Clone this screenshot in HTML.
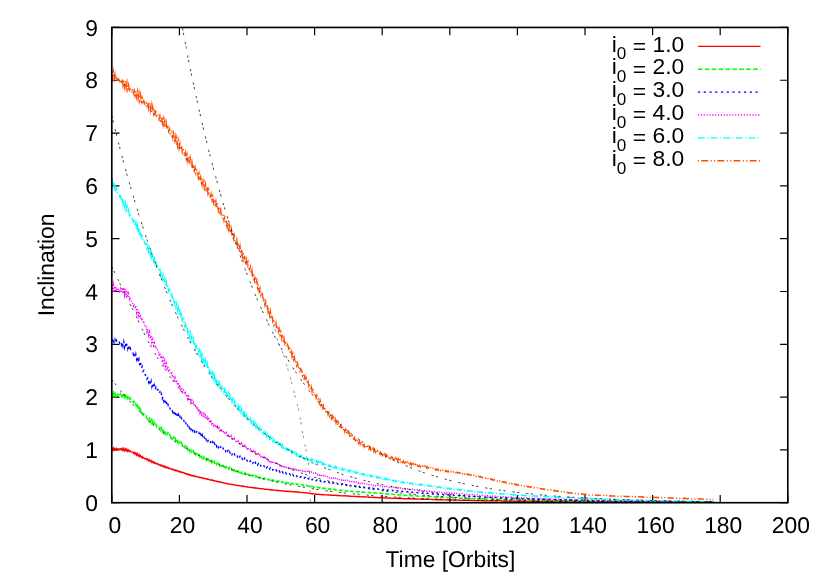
<!DOCTYPE html>
<html><head><meta charset="utf-8"><title>Inclination vs Time</title>
<style>html,body{margin:0;padding:0;background:#fff;overflow:hidden}body{width:822px;height:576px;position:relative;font-family:"Liberation Sans",sans-serif}</style>
</head><body>
<svg width="822" height="576" viewBox="0 0 822 576" style="position:absolute;left:0;top:0;will-change:transform;font-family:'Liberation Sans',sans-serif">
<rect width="822" height="576" fill="#fff"/>
<defs><clipPath id="c"><rect x="111.8" y="27.45" width="676.0" height="475.25"/></clipPath></defs>
<path d="M111.80 502.7V495.0M111.80 27.45V35.15M179.40 502.7V495.0M179.40 27.45V35.15M247.00 502.7V495.0M247.00 27.45V35.15M314.60 502.7V495.0M314.60 27.45V35.15M382.20 502.7V495.0M382.20 27.45V35.15M449.80 502.7V495.0M449.80 27.45V35.15M517.40 502.7V495.0M517.40 27.45V35.15M585.00 502.7V495.0M585.00 27.45V35.15M652.60 502.7V495.0M652.60 27.45V35.15M720.20 502.7V495.0M720.20 27.45V35.15M787.80 502.7V495.0M787.80 27.45V35.15M111.8 502.70H119.5M787.8 502.70H780.0999999999999M111.8 449.89H119.5M787.8 449.89H780.0999999999999M111.8 397.09H119.5M787.8 397.09H780.0999999999999M111.8 344.28H119.5M787.8 344.28H780.0999999999999M111.8 291.48H119.5M787.8 291.48H780.0999999999999M111.8 238.67H119.5M787.8 238.67H780.0999999999999M111.8 185.87H119.5M787.8 185.87H780.0999999999999M111.8 133.06H119.5M787.8 133.06H780.0999999999999M111.8 80.26H119.5M787.8 80.26H780.0999999999999M111.8 27.45H119.5M787.8 27.45H780.0999999999999" stroke="#000" stroke-width="1.2" fill="none"/>
<g clip-path="url(#c)" fill="none" stroke-linejoin="miter" stroke-miterlimit="10">
<path d="M111.8 448.1L112.6 450.1L113.4 448.0L114.2 450.0L115.0 448.4L115.8 449.8L116.6 448.5L117.4 449.5L118.2 449.0L119.0 449.0L119.8 449.4L120.6 448.8L121.4 450.0L122.2 448.4L123.0 450.5L123.8 448.6L124.6 450.7L125.4 448.8L126.2 450.9L127.0 449.4L127.8 451.3L128.6 450.0L129.4 451.6L130.2 450.9L131.0 451.8L131.8 452.1L132.6 451.9L133.4 453.2L134.2 452.4L135.0 454.2L135.8 453.0L136.6 455.2L137.4 453.7L138.2 456.0L139.0 454.6L139.8 456.7L140.6 455.6L141.4 457.5L142.2 456.6L143.0 458.1L143.8 457.6L144.6 458.6L145.4 459.0L146.2 458.5L147.0 460.0L147.8 459.2L148.6 460.8L149.4 459.8L150.3 461.6L151.1 460.6L151.9 462.3L152.7 461.4L153.5 463.1L154.3 462.2L155.1 463.5L155.9 462.9L156.7 464.0L157.5 463.8L158.3 464.1L159.1 465.1L159.9 464.7L160.7 465.8L161.5 465.0L162.3 466.4L163.1 465.7L163.9 467.0L164.7 466.2L165.5 467.6L166.3 466.8L167.1 468.1L167.9 467.5L168.7 468.5L169.5 468.1L170.3 469.0L171.1 469.2L171.9 468.9L172.7 469.8L173.5 469.4L174.3 470.3L175.1 469.8L175.9 470.9L176.7 470.3L177.5 471.3L178.3 470.8L179.1 471.8L179.9 471.4L180.7 472.3L181.5 471.9L182.3 472.7L183.1 472.5L183.9 472.7L184.7 473.5L185.5 473.3L186.3 474.1L187.1 473.8L187.9 474.6L188.7 474.2L189.5 475.1L190.3 474.7L191.1 475.6L191.9 475.2L192.7 476.0L193.5 475.6L194.3 476.4L195.1 476.0L195.9 476.8L196.7 476.5L197.5 476.6L198.3 477.3L199.1 477.0L199.9 477.7L200.7 477.3L201.5 478.0L202.3 477.7L203.1 478.4L203.9 478.0L204.7 478.7L205.5 478.4L206.3 479.0L207.1 478.8L207.9 479.4L208.7 479.2L209.5 479.8L210.3 480.0L211.1 479.8L211.9 480.4L212.7 480.1L213.5 480.8L214.3 480.5L215.1 481.1L215.9 480.9L216.7 481.5L217.5 481.3L218.3 481.9L219.1 481.7L219.9 482.3L220.7 482.0L221.5 482.6L222.3 482.4L223.1 482.6L223.9 483.1L224.7 482.9L225.6 483.5L226.4 483.3L227.2 483.8L228.0 483.6L228.8 484.1L229.6 483.9L230.4 484.4L231.2 484.2L232.0 484.7L232.8 484.5L233.6 484.9L234.4 484.8L235.2 485.2L236.0 485.4L236.8 485.2L237.6 485.6L238.4 485.4L239.2 485.8L240.0 485.7L240.8 486.1L241.6 485.9L242.4 486.4L243.2 486.1L244.0 486.6L244.8 486.4L245.6 486.8L246.4 486.6L247.2 487.0L248.0 486.9L248.8 487.2L249.6 487.4L250.4 487.2L251.2 487.6L252.0 487.4L252.8 487.8L253.6 487.6L254.4 488.0L255.2 487.8L256.0 488.2L256.8 488.0L257.6 488.4L258.4 488.2L259.2 488.6L260.0 488.4L260.8 488.7L261.6 488.6L262.4 488.7L263.2 489.0L264.0 488.9L264.8 489.3L265.6 489.1L266.4 489.4L267.2 489.3L268.0 489.6L268.8 489.4L269.6 489.8L270.4 489.6L271.2 490.0L272.0 489.8L272.8 490.1L273.6 490.0L274.4 490.2L275.2 490.3L276.0 490.2L276.8 490.5L277.6 490.3L278.4 490.6L279.2 490.5L280.0 490.8L280.8 490.6L281.6 490.9L282.4 490.8L283.2 491.1L284.0 490.9L284.8 491.2L285.6 491.0L286.4 491.3L287.2 491.2L288.0 491.2L288.8 491.5L289.6 491.4L290.4 491.6L291.2 491.5L292.0 491.7L292.8 491.6L293.6 491.9L294.4 491.7L295.2 492.0L296.0 491.8L296.8 492.1L297.6 492.0L298.4 492.2L299.2 492.1L300.0 492.4L300.9 492.3L301.7 492.3L302.5 492.6L303.3 492.5L304.1 492.7L304.9 492.6L305.7 492.9L306.5 492.8L307.3 493.1L308.1 493.0L308.9 493.3L309.7 493.3L310.5 493.6L311.3 493.5L312.1 493.8L312.9 493.7L313.7 494.0L314.5 494.1L315.3 494.0L316.1 494.2L316.9 494.1L317.7 494.4L318.5 494.2L319.3 494.5L320.1 494.4L320.9 494.6L321.7 494.5L322.5 494.7L323.3 494.6L324.1 494.8L324.9 494.7L325.7 494.9L326.5 494.8L327.3 494.8L328.1 495.0L328.9 494.9L329.7 495.1L330.5 495.0L331.3 495.2L332.1 495.1L332.9 495.3L333.7 495.2L334.5 495.4L335.3 495.3L336.1 495.5L336.9 495.3L337.7 495.6L338.5 495.4L339.3 495.6L340.1 495.7L340.9 495.6L341.7 495.8L342.5 495.6L343.3 495.8L344.1 495.7L344.9 495.9L345.7 495.8L346.5 496.0L347.3 495.9L348.1 496.1L348.9 496.0L349.7 496.2L350.5 496.1L351.3 496.3L352.1 496.2L352.9 496.3L353.7 496.4L354.5 496.3L355.3 496.5L356.1 496.4L356.9 496.6L357.7 496.4L358.5 496.7L359.3 496.5L360.1 496.8L360.9 496.6L361.7 496.8L362.5 496.7L363.3 496.9L364.1 496.8L364.9 497.0L365.7 496.9L366.5 496.9L367.3 497.1L368.1 497.0L368.9 497.2L369.7 497.1L370.5 497.3L371.3 497.2L372.1 497.4L372.9 497.2L373.7 497.5L374.5 497.3L375.3 497.5L376.1 497.4L377.0 497.6L377.8 497.5L378.6 497.7L379.4 497.7L380.2 497.6L381.0 497.8L381.8 497.6L382.6 497.8L383.4 497.7L384.2 497.9L385.0 497.8L385.8 498.0L386.6 497.9L387.4 498.1L388.2 497.9L389.0 498.1L389.8 498.0L390.6 498.2L391.4 498.1L392.2 498.1L393.0 498.3L393.8 498.2L394.6 498.3L395.4 498.2L396.2 498.4L397.0 498.3L397.8 498.5L398.6 498.3L399.4 498.5L400.2 498.4L401.0 498.6L401.8 498.4L402.6 498.6L403.4 498.5L404.2 498.7L405.0 498.7L405.8 498.6L406.6 498.8L407.4 498.6L408.2 498.8L409.0 498.7L409.8 498.9L410.6 498.7L411.4 498.9L412.2 498.8L413.0 499.0L413.8 498.8L414.6 499.0L415.4 498.9L416.2 499.0L417.0 498.9L417.8 499.1L418.6 499.1L419.4 499.0L420.2 499.1L421.0 499.0L421.8 499.2L422.6 499.1L423.4 499.3L424.2 499.1L425.0 499.3L425.8 499.1L426.6 499.3L427.4 499.2L428.2 499.4L429.0 499.3L429.8 499.4L430.6 499.3L431.4 499.3L432.2 499.5L433.0 499.4L433.8 499.6L434.6 499.5L435.4 499.6L436.2 499.5L437.0 499.7L437.8 499.5L438.6 499.7L439.4 499.6L440.2 499.8L441.0 499.6L441.8 499.8L442.6 499.7L443.4 499.8L444.2 499.9L445.0 499.8L445.8 499.9L446.6 499.8L447.4 500.0L448.2 499.8L449.0 500.0L449.8 499.9L450.6 500.1L451.4 499.9L452.3 500.1L453.1 500.0L453.9 500.1L454.7 500.0L455.5 500.2L456.3 500.0L457.1 500.1L457.9 500.2L458.7 500.1L459.5 500.2L460.3 500.1L461.1 500.3L461.9 500.2L462.7 500.3L463.5 500.2L464.3 500.3L465.1 500.2L465.9 500.4L466.7 500.2L467.5 500.4L468.3 500.3L469.1 500.4L469.9 500.3L470.7 500.3L471.5 500.5L472.3 500.4L473.1 500.5L473.9 500.4L474.7 500.5L475.5 500.4L476.3 500.6L477.1 500.4L477.9 500.6L478.7 500.5L479.5 500.6L480.3 500.5L481.1 500.6L481.9 500.5L482.7 500.7L483.5 500.7L484.3 500.6L485.1 500.7L485.9 500.6L486.7 500.7L487.5 500.6L488.3 500.8L489.1 500.6L489.9 500.8L490.7 500.7L491.5 500.8L492.3 500.7L493.1 500.8L493.9 500.7L494.7 500.8L495.5 500.8L496.3 500.8L497.1 500.9L497.9 500.8L498.7 500.9L499.5 500.8L500.3 500.9L501.1 500.8L501.9 501.0L502.7 500.9L503.5 501.0L504.3 500.9L505.1 501.0L505.9 500.9L506.7 501.0L507.5 500.9L508.3 501.1L509.1 501.1L509.9 501.0L510.7 501.1L511.5 501.0L512.3 501.1L513.1 501.0L513.9 501.2L514.7 501.0L515.5 501.2L516.3 501.1L517.1 501.2L517.9 501.1L518.7 501.2L519.5 501.1L520.3 501.2L521.1 501.1L521.9 501.3L522.7 501.3L523.5 501.2L524.3 501.3L525.1 501.2L525.9 501.3L526.7 501.2L527.6 501.4L528.4 501.2L529.2 501.4L530.0 501.3L530.8 501.4L531.6 501.3L532.4 501.4L533.2 501.3L534.0 501.4L534.8 501.3L535.6 501.3L536.4 501.5L537.2 501.4L538.0 501.5L538.8 501.4L539.6 501.5L540.4 501.4L541.2 501.5L542.0 501.4L542.8 501.6L543.6 501.4L544.4 501.6L545.2 501.5L546.0 501.6L546.8 501.5L547.6 501.6L548.4 501.6L549.2 501.5L550.0 501.6L550.8 501.5L551.6 501.6L552.4 501.5L553.2 501.7L554.0 501.6L554.8 501.7L555.6 501.6L556.4 501.7L557.2 501.6L558.0 501.7L558.8 501.6L559.6 501.7L560.4 501.6L561.2 501.7L562.0 501.8L562.8 501.7L563.6 501.8L564.4 501.7L565.2 501.8L566.0 501.7L566.8 501.8L567.6 501.7L568.4 501.8L569.2 501.7L570.0 501.8L570.8 501.7L571.6 501.9L572.4 501.7L573.2 501.9L574.0 501.8L574.8 501.8L575.6 501.9L576.4 501.8L577.2 501.9L578.0 501.8L578.8 501.9L579.6 501.8L580.4 501.9L581.2 501.8L582.0 502.0L582.8 501.8L583.6 501.9L584.4 501.9L585.2 502.0L586.0 501.9L586.8 502.0L587.6 502.0L588.4 501.9L589.2 502.0L590.0 501.9L590.8 502.0L591.6 501.9L592.4 502.0L593.2 501.9L594.0 502.0L594.8 501.9L595.6 502.0L596.4 501.9L597.2 502.0L598.0 501.9L598.8 502.1L599.6 502.0L600.4 502.0L601.2 502.1L602.0 502.0L602.8 502.1L603.7 502.0L604.5 502.1L605.3 502.0L606.1 502.1L606.9 502.0L607.7 502.1L608.5 502.0L609.3 502.1L610.1 502.0L610.9 502.1L611.7 502.0L612.5 502.1L613.3 502.1L614.1 502.0L614.9 502.2L615.7 502.1L616.5 502.2L617.3 502.1L618.1 502.2L618.9 502.1L619.7 502.2L620.5 502.1L621.3 502.2L622.1 502.1L622.9 502.2L623.7 502.1L624.5 502.2L625.3 502.1L626.1 502.2L626.9 502.2L627.7 502.1L628.5 502.2L629.3 502.1L630.1 502.2L630.9 502.1L631.7 502.2L632.5 502.1L633.3 502.2L634.1 502.1L634.9 502.3L635.7 502.2L636.5 502.2L637.3 502.2L638.1 502.3L638.9 502.2L639.7 502.2L640.5 502.3L641.3 502.2L642.1 502.3L642.9 502.2L643.7 502.3L644.5 502.2L645.3 502.3L646.1 502.2L646.9 502.3L647.7 502.2L648.5 502.3L649.3 502.2L650.1 502.3L650.9 502.2L651.7 502.3L652.5 502.3L653.3 502.2L654.1 502.3L654.9 502.2L655.7 502.3L656.5 502.2L657.3 502.3L658.1 502.2L658.9 502.3L659.7 502.2L660.5 502.3L661.3 502.2L662.1 502.3L662.9 502.3L663.7 502.4L664.5 502.3L665.3 502.3L666.1 502.4L666.9 502.3L667.7 502.4L668.5 502.3L669.3 502.4L670.1 502.3L670.9 502.4L671.7 502.3L672.5 502.4L673.3 502.3L674.1 502.4L674.9 502.3L675.7 502.4L676.5 502.3L677.3 502.4L678.1 502.3L679.0 502.3L679.8 502.4L680.6 502.3L681.4 502.4L682.2 502.3L683.0 502.4L683.8 502.3L684.6 502.4L685.4 502.3L686.2 502.4L687.0 502.3L687.8 502.4L688.6 502.3L689.4 502.4L690.2 502.3L691.0 502.4L691.8 502.4L692.6 502.3L693.4 502.4L694.2 502.3L695.0 502.5L695.8 502.4L696.6 502.4L697.4 502.4L698.2 502.4L699.0 502.4L699.8 502.5L700.6 502.4L701.4 502.5L702.2 502.4L703.0 502.5L703.8 502.4L704.6 502.4L705.4 502.5L706.2 502.4L707.0 502.5L707.8 502.4L708.6 502.5L709.4 502.4L710.2 502.5L711.0 502.4L711.8 502.5L712.6 502.4L713.4 502.5" stroke="#ff0000" stroke-width="1.35"/>
<path d="M111.8 393.3L112.6 397.1L113.4 393.0L114.2 396.4L115.0 393.3L115.8 396.0L116.6 393.5L117.4 395.3L118.2 394.3L119.0 394.4L119.8 395.5L120.6 393.6L121.4 396.2L122.2 393.3L123.0 396.4L123.8 393.5L124.6 397.0L125.4 393.5L126.2 397.7L127.0 394.9L127.8 398.4L128.6 396.0L129.4 399.0L130.2 397.8L131.0 399.8L131.8 400.1L132.6 400.4L133.4 402.6L134.2 401.6L135.0 405.2L135.8 403.8L136.6 407.9L137.4 405.4L138.2 409.6L139.0 407.3L139.8 411.3L140.6 409.3L141.4 413.1L142.2 411.5L143.0 414.4L143.8 414.0L144.6 415.3L145.4 416.4L146.2 415.7L147.0 418.7L147.8 417.3L148.6 420.6L149.4 418.4L150.3 421.9L151.1 419.4L151.9 423.3L152.7 420.7L153.5 424.6L154.3 422.5L155.1 425.8L155.9 424.3L156.7 426.8L157.5 425.7L158.3 426.3L159.1 428.6L159.9 427.3L160.7 429.9L161.5 427.9L162.3 431.4L163.1 429.1L163.9 432.7L164.7 430.2L165.5 433.7L166.3 431.5L167.1 434.7L167.9 432.8L168.7 435.4L169.5 434.3L170.3 436.4L171.1 437.2L171.9 436.0L172.7 438.7L173.5 437.2L174.3 439.7L175.1 438.0L175.9 441.0L176.7 438.9L177.5 442.2L178.3 440.0L179.1 443.3L179.9 441.8L180.7 444.5L181.5 442.7L182.3 445.2L183.1 444.2L183.9 444.9L184.7 447.4L185.5 445.9L186.3 448.9L187.1 447.2L187.9 449.9L188.7 448.1L189.5 451.1L190.3 449.0L191.1 452.2L191.9 450.3L192.7 453.1L193.5 451.3L194.3 453.9L195.1 452.1L195.9 454.8L196.7 453.2L197.5 453.7L198.3 456.0L199.1 454.5L199.9 457.0L200.7 455.1L201.5 457.9L202.3 455.8L203.1 458.7L203.9 456.9L204.7 459.3L205.5 457.9L206.3 460.3L207.1 458.5L207.9 460.8L208.7 459.2L209.5 461.6L210.3 462.0L211.1 460.3L211.9 462.6L212.7 461.1L213.5 463.4L214.3 461.5L215.1 464.1L215.9 462.5L216.7 464.8L217.5 463.1L218.3 465.3L219.1 463.7L219.9 466.0L220.7 464.5L221.5 466.4L222.3 465.1L223.1 465.4L223.9 467.5L224.7 466.1L225.6 467.9L226.4 466.7L227.2 468.6L228.0 467.2L228.8 469.3L229.6 467.6L230.4 469.8L231.2 468.4L232.0 470.3L232.8 468.9L233.6 470.9L234.4 469.6L235.2 471.3L236.0 471.7L236.8 470.3L237.6 471.9L238.4 470.8L239.2 472.7L240.0 471.3L240.8 473.1L241.6 471.9L242.4 473.6L243.2 472.4L244.0 474.1L244.8 472.9L245.6 474.5L246.4 473.4L247.2 474.8L248.0 474.0L248.8 475.3L249.6 475.6L250.4 474.4L251.2 476.0L252.0 474.9L252.8 476.3L253.6 475.4L254.4 476.9L255.2 475.8L256.0 477.3L256.8 476.1L257.6 477.6L258.4 476.5L259.2 477.9L260.0 477.0L260.8 478.2L261.6 477.4L262.4 477.5L263.2 478.9L264.0 478.0L264.8 479.1L265.6 478.4L266.4 479.5L267.2 478.6L268.0 479.9L268.8 479.0L269.6 480.1L270.4 479.3L271.2 480.4L272.0 479.6L272.8 480.8L273.6 480.0L274.4 481.0L275.2 481.2L276.0 480.5L276.8 481.5L277.6 480.8L278.4 481.8L279.2 481.0L280.0 482.1L280.8 481.2L281.6 482.4L282.4 481.6L283.2 482.6L284.0 481.8L284.8 482.9L285.6 482.2L286.4 483.1L287.2 482.4L288.0 482.5L288.8 483.4L289.6 482.8L290.4 483.7L291.2 483.1L292.0 484.0L292.8 483.3L293.6 484.3L294.4 483.5L295.2 484.4L296.0 483.8L296.8 484.6L297.6 484.0L298.4 484.8L299.2 484.3L300.0 485.0L300.9 484.5L301.7 484.6L302.5 485.4L303.3 484.8L304.1 485.7L304.9 485.1L305.7 485.9L306.5 485.3L307.3 486.2L308.1 485.6L308.9 486.4L309.7 485.8L310.5 486.6L311.3 486.1L312.1 486.9L312.9 486.4L313.7 487.1L314.5 487.3L315.3 486.8L316.1 487.5L316.9 487.0L317.7 487.7L318.5 487.2L319.3 488.0L320.1 487.4L320.9 488.2L321.7 487.7L322.5 488.4L323.3 487.9L324.1 488.6L324.9 488.1L325.7 488.8L326.5 488.4L327.3 488.4L328.1 489.1L328.9 488.6L329.7 489.3L330.5 488.8L331.3 489.6L332.1 489.0L332.9 489.8L333.7 489.2L334.5 489.9L335.3 489.4L336.1 490.1L336.9 489.6L337.7 490.3L338.5 489.8L339.3 490.4L340.1 490.5L340.9 490.1L341.7 490.7L342.5 490.2L343.3 490.9L344.1 490.4L344.9 491.0L345.7 490.6L346.5 491.2L347.3 490.7L348.1 491.4L348.9 490.8L349.7 491.5L350.5 491.0L351.3 491.6L352.1 491.1L352.9 491.6L353.7 491.8L354.5 491.4L355.3 491.9L356.1 491.4L356.9 492.0L357.7 491.5L358.5 492.1L359.3 491.6L360.1 492.2L360.9 491.7L361.7 492.3L362.5 491.8L363.3 492.4L364.1 492.0L364.9 492.5L365.7 492.0L366.5 492.1L367.3 492.7L368.1 492.2L368.9 492.8L369.7 492.3L370.5 492.9L371.3 492.4L372.1 493.0L372.9 492.5L373.7 493.1L374.5 492.6L375.3 493.2L376.1 492.8L377.0 493.3L377.8 492.9L378.6 493.4L379.4 493.5L380.2 493.1L381.0 493.6L381.8 493.2L382.6 493.8L383.4 493.4L384.2 493.9L385.0 493.5L385.8 494.1L386.6 493.6L387.4 494.1L388.2 493.8L389.0 494.3L389.8 493.9L390.6 494.4L391.4 494.0L392.2 494.2L393.0 494.6L393.8 494.2L394.6 494.8L395.4 494.4L396.2 494.9L397.0 494.5L397.8 495.0L398.6 494.6L399.4 495.2L400.2 494.7L401.0 495.2L401.8 494.8L402.6 495.3L403.4 494.9L404.2 495.4L405.0 495.5L405.8 495.1L406.6 495.6L407.4 495.2L408.2 495.7L409.0 495.3L409.8 495.8L410.6 495.4L411.4 496.0L412.2 495.5L413.0 496.0L413.8 495.6L414.6 496.1L415.4 495.7L416.2 496.1L417.0 495.8L417.8 496.3L418.6 496.3L419.4 495.9L420.2 496.4L421.0 496.0L421.8 496.5L422.6 496.1L423.4 496.6L424.2 496.2L425.0 496.7L425.8 496.3L426.6 496.8L427.4 496.4L428.2 496.8L429.0 496.5L429.8 496.9L430.6 496.6L431.4 496.6L432.2 497.1L433.0 496.7L433.8 497.1L434.6 496.8L435.4 497.2L436.2 496.8L437.0 497.3L437.8 496.9L438.6 497.4L439.4 497.0L440.2 497.5L441.0 497.1L441.8 497.5L442.6 497.2L443.4 497.5L444.2 497.6L445.0 497.3L445.8 497.7L446.6 497.3L447.4 497.8L448.2 497.4L449.0 497.9L449.8 497.5L450.6 497.9L451.4 497.6L452.3 498.0L453.1 497.6L453.9 498.1L454.7 497.7L455.5 498.1L456.3 497.8L457.1 497.8L457.9 498.2L458.7 497.9L459.5 498.3L460.3 498.0L461.1 498.3L461.9 498.0L462.7 498.4L463.5 498.1L464.3 498.5L465.1 498.1L465.9 498.6L466.7 498.2L467.5 498.5L468.3 498.3L469.1 498.6L469.9 498.3L470.7 498.4L471.5 498.7L472.3 498.4L473.1 498.8L473.9 498.5L474.7 498.8L475.5 498.5L476.3 498.9L477.1 498.6L477.9 499.0L478.7 498.7L479.5 499.0L480.3 498.7L481.1 499.0L481.9 498.7L482.7 499.1L483.5 499.1L484.3 498.8L485.1 499.2L485.9 498.8L486.7 499.2L487.5 498.9L488.3 499.3L489.1 498.9L489.9 499.3L490.7 499.0L491.5 499.3L492.3 499.0L493.1 499.4L493.9 499.1L494.7 499.4L495.5 499.1L496.3 499.2L497.1 499.5L497.9 499.2L498.7 499.5L499.5 499.2L500.3 499.6L501.1 499.3L501.9 499.6L502.7 499.3L503.5 499.7L504.3 499.3L505.1 499.7L505.9 499.4L506.7 499.7L507.5 499.4L508.3 499.8L509.1 499.8L509.9 499.5L510.7 499.8L511.5 499.5L512.3 499.9L513.1 499.6L513.9 499.9L514.7 499.6L515.5 499.9L516.3 499.6L517.1 500.0L517.9 499.7L518.7 500.0L519.5 499.7L520.3 500.1L521.1 499.8L521.9 500.1L522.7 500.1L523.5 499.8L524.3 500.2L525.1 499.9L525.9 500.2L526.7 499.9L527.6 500.2L528.4 499.9L529.2 500.3L530.0 500.0L530.8 500.3L531.6 500.0L532.4 500.3L533.2 500.0L534.0 500.4L534.8 500.1L535.6 500.1L536.4 500.4L537.2 500.1L538.0 500.4L538.8 500.2L539.6 500.5L540.4 500.2L541.2 500.5L542.0 500.2L542.8 500.5L543.6 500.3L544.4 500.6L545.2 500.3L546.0 500.6L546.8 500.4L547.6 500.6L548.4 500.6L549.2 500.4L550.0 500.7L550.8 500.4L551.6 500.7L552.4 500.4L553.2 500.7L554.0 500.5L554.8 500.8L555.6 500.5L556.4 500.8L557.2 500.6L558.0 500.8L558.8 500.6L559.6 500.8L560.4 500.6L561.2 500.6L562.0 500.9L562.8 500.7L563.6 500.9L564.4 500.7L565.2 501.0L566.0 500.7L566.8 501.0L567.6 500.7L568.4 501.0L569.2 500.7L570.0 501.0L570.8 500.8L571.6 501.0L572.4 500.8L573.2 501.1L574.0 500.8L574.8 500.8L575.6 501.1L576.4 500.9L577.2 501.1L578.0 500.9L578.8 501.2L579.6 500.9L580.4 501.2L581.2 500.9L582.0 501.2L582.8 500.9L583.6 501.2L584.4 501.0L585.2 501.3L586.0 501.0L586.8 501.2L587.6 501.3L588.4 501.0L589.2 501.3L590.0 501.1L590.8 501.3L591.6 501.1L592.4 501.3L593.2 501.1L594.0 501.4L594.8 501.1L595.6 501.4L596.4 501.1L597.2 501.4L598.0 501.2L598.8 501.4L599.6 501.2L600.4 501.2L601.2 501.4L602.0 501.2L602.8 501.5L603.7 501.2L604.5 501.5L605.3 501.2L606.1 501.5L606.9 501.3L607.7 501.5L608.5 501.3L609.3 501.5L610.1 501.3L610.9 501.6L611.7 501.3L612.5 501.6L613.3 501.6L614.1 501.4L614.9 501.6L615.7 501.4L616.5 501.6L617.3 501.4L618.1 501.7L618.9 501.4L619.7 501.6L620.5 501.4L621.3 501.6L622.1 501.4L622.9 501.7L623.7 501.4L624.5 501.7L625.3 501.5L626.1 501.7L626.9 501.7L627.7 501.5L628.5 501.7L629.3 501.5L630.1 501.7L630.9 501.5L631.7 501.8L632.5 501.5L633.3 501.8L634.1 501.5L634.9 501.8L635.7 501.6L636.5 501.8L637.3 501.6L638.1 501.8L638.9 501.6L639.7 501.6L640.5 501.8L641.3 501.6L642.1 501.8L642.9 501.6L643.7 501.9L644.5 501.6L645.3 501.9L646.1 501.7L646.9 501.9L647.7 501.7L648.5 501.9L649.3 501.7L650.1 501.9L650.9 501.7L651.7 501.9L652.5 501.9L653.3 501.7L654.1 501.9L654.9 501.7L655.7 502.0L656.5 501.7L657.3 502.0L658.1 501.8L658.9 502.0L659.7 501.8L660.5 502.0L661.3 501.8L662.1 502.0L662.9 501.8L663.7 502.0L664.5 501.8L665.3 501.8L666.1 502.0L666.9 501.8L667.7 502.0L668.5 501.8L669.3 502.0L670.1 501.8L670.9 502.0L671.7 501.8L672.5 502.1L673.3 501.9L674.1 502.1L674.9 501.9L675.7 502.1L676.5 501.9L677.3 502.1L678.1 501.9L679.0 501.9L679.8 502.1L680.6 501.9L681.4 502.1L682.2 501.9L683.0 502.1L683.8 501.9L684.6 502.1L685.4 501.9L686.2 502.1L687.0 501.9L687.8 502.1L688.6 501.9L689.4 502.2L690.2 502.0L691.0 502.2L691.8 502.2L692.6 502.0L693.4 502.2L694.2 502.0L695.0 502.2L695.8 502.0L696.6 502.2L697.4 502.0L698.2 502.2L699.0 502.0L699.8 502.2L700.6 502.0L701.4 502.2L702.2 502.0L703.0 502.2L703.8 502.1L704.6 502.1L705.4 502.2L706.2 502.0L707.0 502.2L707.8 502.1L708.6 502.2L709.4 502.1L710.2 502.2L711.0 502.1L711.8 502.3L712.6 502.1L713.4 502.3" stroke="#00ff00" stroke-width="1.35" stroke-dasharray="4.60 2.30"/>
<path d="M111.8 338.6L112.6 343.1L113.4 338.7L114.2 343.6L115.0 339.6L115.8 343.1L116.6 340.4L117.4 342.7L118.2 342.1L119.0 341.8L119.8 343.2L120.6 342.1L121.4 345.0L122.2 341.9L123.0 346.2L123.8 341.9L124.6 347.2L125.4 342.9L126.2 347.8L127.0 343.7L127.8 348.9L128.6 345.8L129.4 350.1L130.2 348.0L131.0 350.3L131.8 351.1L132.6 351.4L133.4 354.6L134.2 352.7L135.0 357.4L135.8 354.1L136.6 359.4L137.4 356.3L138.2 362.7L139.0 359.4L139.8 365.7L140.6 362.8L141.4 368.3L142.2 366.6L143.0 371.4L143.8 370.4L144.6 373.3L145.4 375.3L146.2 374.8L147.0 379.0L147.8 377.9L148.6 382.2L149.4 379.5L150.3 385.0L151.1 381.3L151.9 386.7L152.7 383.3L153.5 388.2L154.3 385.2L155.1 389.4L155.9 387.3L156.7 390.6L157.5 389.5L158.3 390.0L159.1 393.2L159.9 391.8L160.7 395.6L161.5 393.8L162.3 398.6L163.1 396.5L163.9 401.1L164.7 398.8L165.5 403.6L166.3 401.5L167.1 406.0L167.9 404.4L168.7 407.7L169.5 406.6L170.3 409.5L171.1 410.2L171.9 409.0L172.7 412.2L173.5 410.4L174.3 414.2L175.1 411.8L175.9 415.4L176.7 413.1L177.5 417.3L178.3 414.7L179.1 418.4L179.9 416.5L180.7 420.0L181.5 418.1L182.3 421.0L183.1 419.7L183.9 420.7L184.7 423.4L185.5 421.8L186.3 425.0L187.1 423.4L187.9 426.6L188.7 424.9L189.5 428.1L190.3 426.2L191.1 429.5L191.9 427.4L192.7 430.7L193.5 429.0L194.3 431.9L195.1 430.1L195.9 433.1L196.7 431.6L197.5 432.0L198.3 434.6L199.1 433.1L199.9 435.9L200.7 434.0L201.5 437.1L202.3 434.9L203.1 437.9L203.9 436.0L204.7 439.2L205.5 437.3L206.3 440.1L207.1 438.5L207.9 441.1L208.7 439.4L209.5 442.1L210.3 442.6L211.1 440.9L211.9 443.5L212.7 441.9L213.5 444.6L214.3 443.0L215.1 445.7L215.9 443.9L216.7 446.6L217.5 444.8L218.3 447.5L219.1 445.8L219.9 448.2L220.7 446.8L221.5 449.3L222.3 447.8L223.1 448.0L223.9 450.3L224.7 449.2L225.6 451.3L226.4 449.8L227.2 452.4L228.0 450.6L228.8 452.9L229.6 451.5L230.4 453.8L231.2 452.2L232.0 454.6L232.8 453.1L233.6 455.2L234.4 454.0L235.2 455.9L236.0 456.4L236.8 455.0L237.6 456.9L238.4 455.5L239.2 457.8L240.0 456.3L240.8 458.4L241.6 457.1L242.4 459.1L243.2 457.6L244.0 459.7L244.8 458.2L245.6 460.3L246.4 459.1L247.2 460.9L248.0 459.7L248.8 461.5L249.6 461.7L250.4 460.8L251.2 462.5L252.0 461.4L252.8 463.3L253.6 461.8L254.4 463.9L255.2 462.4L256.0 464.3L256.8 463.1L257.6 465.0L258.4 463.7L259.2 465.5L260.0 464.4L260.8 466.0L261.6 464.9L262.4 465.2L263.2 466.8L264.0 465.9L264.8 467.5L265.6 466.3L266.4 467.9L267.2 466.9L268.0 468.5L268.8 467.4L269.6 469.1L270.4 467.9L271.2 469.6L272.0 468.6L272.8 470.0L273.6 469.0L274.4 470.5L275.2 470.7L276.0 469.8L276.8 471.2L277.6 470.3L278.4 471.8L279.2 470.9L280.0 472.3L280.8 471.1L281.6 472.7L282.4 471.8L283.2 473.1L284.0 472.3L284.8 473.5L285.6 472.6L286.4 473.9L287.2 473.1L288.0 473.3L288.8 474.6L289.6 473.8L290.4 475.0L291.2 474.2L292.0 475.5L292.8 474.5L293.6 475.8L294.4 475.0L295.2 476.3L296.0 475.4L296.8 476.5L297.6 475.8L298.4 476.9L299.2 476.2L300.0 477.3L300.9 476.6L301.7 476.8L302.5 477.9L303.3 477.2L304.1 478.2L304.9 477.4L305.7 478.6L306.5 477.9L307.3 479.0L308.1 478.2L308.9 479.3L309.7 478.6L310.5 479.6L311.3 478.9L312.1 479.9L312.9 479.2L313.7 480.2L314.5 480.3L315.3 479.7L316.1 480.7L316.9 480.0L317.7 481.0L318.5 480.3L319.3 481.2L320.1 480.5L320.9 481.5L321.7 480.8L322.5 481.8L323.3 481.2L324.1 482.0L324.9 481.4L325.7 482.2L326.5 481.7L327.3 481.8L328.1 482.7L328.9 482.1L329.7 482.9L330.5 482.3L331.3 483.2L332.1 482.6L332.9 483.4L333.7 482.8L334.5 483.6L335.3 483.0L336.1 483.9L336.9 483.2L337.7 484.1L338.5 483.5L339.3 484.3L340.1 484.4L340.9 483.9L341.7 484.6L342.5 484.0L343.3 484.9L344.1 484.3L344.9 485.1L345.7 484.5L346.5 485.4L347.3 484.7L348.1 485.6L348.9 485.0L349.7 485.8L350.5 485.3L351.3 486.0L352.1 485.5L352.9 486.2L353.7 486.3L354.5 485.8L355.3 486.6L356.1 486.0L356.9 486.8L357.7 486.2L358.5 486.9L359.3 486.4L360.1 487.2L360.9 486.6L361.7 487.3L362.5 486.9L363.3 487.6L364.1 487.1L364.9 487.8L365.7 487.3L366.5 487.5L367.3 488.1L368.1 487.6L368.9 488.3L369.7 487.8L370.5 488.5L371.3 488.0L372.1 488.7L372.9 488.2L373.7 488.9L374.5 488.3L375.3 489.1L376.1 488.5L377.0 489.2L377.8 488.8L378.6 489.3L379.4 489.4L380.2 489.0L381.0 489.6L381.8 489.2L382.6 489.8L383.4 489.4L384.2 490.0L385.0 489.4L385.8 490.1L386.6 489.6L387.4 490.3L388.2 489.8L389.0 490.4L389.8 490.0L390.6 490.6L391.4 490.1L392.2 490.2L393.0 490.8L393.8 490.3L394.6 490.9L395.4 490.5L396.2 491.1L397.0 490.7L397.8 491.3L398.6 490.8L399.4 491.4L400.2 490.9L401.0 491.4L401.8 491.1L402.6 491.7L403.4 491.2L404.2 491.7L405.0 491.8L405.8 491.5L406.6 491.9L407.4 491.6L408.2 492.1L409.0 491.7L409.8 492.3L410.6 491.8L411.4 492.4L412.2 492.0L413.0 492.5L413.8 492.1L414.6 492.6L415.4 492.2L416.2 492.7L417.0 492.4L417.8 492.8L418.6 492.9L419.4 492.6L420.2 493.0L421.0 492.7L421.8 493.2L422.6 492.7L423.4 493.3L424.2 492.9L425.0 493.4L425.8 493.0L426.6 493.5L427.4 493.1L428.2 493.6L429.0 493.3L429.8 493.7L430.6 493.4L431.4 493.5L432.2 493.9L433.0 493.6L433.8 494.0L434.6 493.6L435.4 494.1L436.2 493.8L437.0 494.3L437.8 493.9L438.6 494.4L439.4 494.1L440.2 494.5L441.0 494.1L441.8 494.5L442.6 494.3L443.4 494.7L444.2 494.7L445.0 494.4L445.8 494.8L446.6 494.5L447.4 495.0L448.2 494.6L449.0 495.1L449.8 494.8L450.6 495.2L451.4 494.8L452.3 495.3L453.1 495.0L453.9 495.4L454.7 495.1L455.5 495.5L456.3 495.2L457.1 495.3L457.9 495.7L458.7 495.4L459.5 495.8L460.3 495.5L461.1 495.9L461.9 495.6L462.7 496.1L463.5 495.7L464.3 496.2L465.1 495.9L465.9 496.3L466.7 496.0L467.5 496.4L468.3 496.1L469.1 496.5L469.9 496.2L470.7 496.3L471.5 496.6L472.3 496.3L473.1 496.8L473.9 496.4L474.7 496.8L475.5 496.5L476.3 496.9L477.1 496.6L477.9 497.0L478.7 496.7L479.5 497.1L480.3 496.8L481.1 497.1L481.9 496.8L482.7 497.2L483.5 497.2L484.3 497.0L485.1 497.3L485.9 497.0L486.7 497.4L487.5 497.1L488.3 497.5L489.1 497.1L489.9 497.5L490.7 497.2L491.5 497.6L492.3 497.3L493.1 497.7L493.9 497.4L494.7 497.7L495.5 497.4L496.3 497.4L497.1 497.8L497.9 497.5L498.7 497.9L499.5 497.6L500.3 497.9L501.1 497.6L501.9 498.0L502.7 497.7L503.5 498.1L504.3 497.8L505.1 498.1L505.9 497.8L506.7 498.1L507.5 497.9L508.3 498.2L509.1 498.2L509.9 498.0L510.7 498.3L511.5 498.0L512.3 498.4L513.1 498.1L513.9 498.5L514.7 498.1L515.5 498.5L516.3 498.2L517.1 498.6L517.9 498.3L518.7 498.6L519.5 498.3L520.3 498.7L521.1 498.4L521.9 498.7L522.7 498.7L523.5 498.5L524.3 498.8L525.1 498.5L525.9 498.9L526.7 498.6L527.6 498.9L528.4 498.7L529.2 499.0L530.0 498.7L530.8 499.0L531.6 498.7L532.4 499.1L533.2 498.8L534.0 499.1L534.8 498.9L535.6 498.9L536.4 499.2L537.2 498.9L538.0 499.2L538.8 499.0L539.6 499.3L540.4 499.0L541.2 499.4L542.0 499.1L542.8 499.4L543.6 499.1L544.4 499.5L545.2 499.2L546.0 499.5L546.8 499.2L547.6 499.5L548.4 499.5L549.2 499.3L550.0 499.6L550.8 499.3L551.6 499.6L552.4 499.4L553.2 499.7L554.0 499.4L554.8 499.8L555.6 499.5L556.4 499.8L557.2 499.5L558.0 499.8L558.8 499.6L559.6 499.9L560.4 499.6L561.2 499.7L562.0 499.9L562.8 499.7L563.6 500.0L564.4 499.7L565.2 500.0L566.0 499.7L566.8 500.1L567.6 499.8L568.4 500.1L569.2 499.8L570.0 500.1L570.8 499.9L571.6 500.2L572.4 499.9L573.2 500.2L574.0 500.0L574.8 500.0L575.6 500.3L576.4 500.0L577.2 500.3L578.0 500.0L578.8 500.3L579.6 500.1L580.4 500.3L581.2 500.1L582.0 500.4L582.8 500.1L583.6 500.4L584.4 500.2L585.2 500.4L586.0 500.2L586.8 500.5L587.6 500.5L588.4 500.3L589.2 500.5L590.0 500.3L590.8 500.6L591.6 500.3L592.4 500.6L593.2 500.4L594.0 500.6L594.8 500.4L595.6 500.7L596.4 500.4L597.2 500.7L598.0 500.5L598.8 500.7L599.6 500.5L600.4 500.5L601.2 500.8L602.0 500.5L602.8 500.8L603.7 500.6L604.5 500.8L605.3 500.6L606.1 500.8L606.9 500.6L607.7 500.9L608.5 500.6L609.3 500.9L610.1 500.7L610.9 500.9L611.7 500.7L612.5 500.9L613.3 500.9L614.1 500.8L614.9 501.0L615.7 500.8L616.5 501.0L617.3 500.8L618.1 501.0L618.9 500.8L619.7 501.1L620.5 500.9L621.3 501.1L622.1 500.9L622.9 501.1L623.7 500.9L624.5 501.1L625.3 500.9L626.1 501.2L626.9 501.2L627.7 500.9L628.5 501.2L629.3 501.0L630.1 501.2L630.9 501.0L631.7 501.2L632.5 501.0L633.3 501.3L634.1 501.0L634.9 501.3L635.7 501.1L636.5 501.3L637.3 501.1L638.1 501.3L638.9 501.1L639.7 501.1L640.5 501.3L641.3 501.1L642.1 501.4L642.9 501.1L643.7 501.4L644.5 501.1L645.3 501.4L646.1 501.2L646.9 501.4L647.7 501.2L648.5 501.4L649.3 501.2L650.1 501.5L650.9 501.3L651.7 501.5L652.5 501.5L653.3 501.3L654.1 501.5L654.9 501.3L655.7 501.5L656.5 501.3L657.3 501.5L658.1 501.3L658.9 501.5L659.7 501.3L660.5 501.6L661.3 501.4L662.1 501.6L662.9 501.4L663.7 501.6L664.5 501.4L665.3 501.4L666.1 501.6L666.9 501.4L667.7 501.6L668.5 501.4L669.3 501.7L670.1 501.4L670.9 501.7L671.7 501.5L672.5 501.7L673.3 501.5L674.1 501.7L674.9 501.5L675.7 501.7L676.5 501.5L677.3 501.7L678.1 501.5L679.0 501.6L679.8 501.7L680.6 501.6L681.4 501.8L682.2 501.6L683.0 501.8L683.8 501.6L684.6 501.8L685.4 501.6L686.2 501.8L687.0 501.6L687.8 501.8L688.6 501.6L689.4 501.8L690.2 501.6L691.0 501.8L691.8 501.8L692.6 501.7L693.4 501.9L694.2 501.7L695.0 501.9L695.8 501.7L696.6 501.9L697.4 501.7L698.2 501.9L699.0 501.7L699.8 501.9L700.6 501.7L701.4 501.9L702.2 501.7L703.0 501.9L703.8 501.7L704.6 501.8L705.4 501.9L706.2 501.8L707.0 502.0L707.8 501.8L708.6 502.0L709.4 501.8L710.2 502.0L711.0 501.8L711.8 502.0L712.6 501.8L713.4 502.0" stroke="#0000ff" stroke-width="1.35" stroke-dasharray="2.30 3.45"/>
<path d="M111.8 285.1L112.6 292.6L113.4 285.4L114.2 292.3L115.0 286.0L115.8 291.9L116.6 287.5L117.4 290.8L118.2 289.5L119.0 289.0L119.8 291.4L120.6 288.7L121.4 292.7L122.2 287.8L123.0 293.9L123.8 287.5L124.6 294.6L125.4 288.7L126.2 295.5L127.0 290.7L127.8 297.5L128.6 293.9L129.4 299.2L130.2 297.2L131.0 301.0L131.8 301.8L132.6 302.7L133.4 305.8L134.2 303.8L135.0 308.8L135.8 305.5L136.6 312.3L137.4 308.2L138.2 315.3L139.0 311.4L139.8 317.9L140.6 314.6L141.4 320.3L142.2 318.0L143.0 322.8L143.8 321.8L144.6 325.5L145.4 327.2L146.2 326.6L147.0 331.7L147.8 329.3L148.6 335.2L149.4 332.1L150.3 339.0L151.1 335.6L151.9 342.3L152.7 339.5L153.5 345.3L154.3 343.0L155.1 347.9L155.9 346.1L156.7 350.3L157.5 349.9L158.3 350.6L159.1 354.7L159.9 353.0L160.7 358.1L161.5 355.6L162.3 360.6L163.1 358.0L163.9 363.8L164.7 360.6L165.5 366.1L166.3 363.6L167.1 368.7L167.9 366.4L168.7 370.5L169.5 369.1L170.3 373.2L171.1 374.5L171.9 373.2L172.7 377.5L173.5 375.5L174.3 379.9L175.1 377.8L175.9 382.9L176.7 380.0L177.5 385.1L178.3 382.4L179.1 387.7L179.9 384.9L180.7 389.5L181.5 387.6L182.3 391.6L183.1 389.7L183.9 390.9L184.7 394.3L185.5 392.6L186.3 396.8L187.1 394.5L187.9 399.0L188.7 396.5L189.5 400.7L190.3 398.3L191.1 403.0L191.9 400.5L192.7 404.5L193.5 402.5L194.3 406.3L195.1 404.2L195.9 408.0L196.7 406.3L197.5 407.2L198.3 410.6L199.1 409.0L199.9 412.8L200.7 410.6L201.5 414.2L202.3 412.2L203.1 415.9L203.9 413.8L204.7 417.8L205.5 415.6L206.3 419.2L207.1 417.2L207.9 420.5L208.7 418.7L209.5 421.9L210.3 422.6L211.1 421.2L211.9 424.1L212.7 422.6L213.5 425.7L214.3 423.9L215.1 426.9L215.9 425.1L216.7 428.3L217.5 426.5L218.3 429.5L219.1 427.6L219.9 430.6L220.7 428.9L221.5 431.7L222.3 430.1L223.1 430.7L223.9 433.4L224.7 431.6L225.6 434.4L226.4 432.7L227.2 435.5L228.0 433.9L228.8 436.8L229.6 435.0L230.4 437.5L231.2 436.0L232.0 438.7L232.8 437.4L233.6 439.8L234.4 438.4L235.2 440.9L236.0 441.3L236.8 440.1L237.6 442.5L238.4 441.1L239.2 443.5L240.0 442.2L240.8 444.8L241.6 443.3L242.4 445.7L243.2 444.5L244.0 447.0L244.8 445.5L245.6 447.8L246.4 446.5L247.2 448.9L248.0 447.7L248.8 449.8L249.6 450.3L250.4 449.2L251.2 451.3L252.0 450.1L252.8 452.3L253.6 451.0L254.4 453.2L255.2 451.9L256.0 454.1L256.8 452.8L257.6 455.1L258.4 453.8L259.2 455.9L260.0 454.9L260.8 456.7L261.6 455.7L262.4 456.1L263.2 458.1L264.0 456.9L264.8 458.9L265.6 457.9L266.4 459.7L267.2 458.8L268.0 460.6L268.8 459.6L269.6 461.5L270.4 460.4L271.2 462.3L272.0 461.2L272.8 462.9L273.6 461.9L274.4 463.6L275.2 463.9L276.0 463.1L276.8 464.5L277.6 463.6L278.4 465.2L279.2 464.0L280.0 465.8L280.8 464.5L281.6 466.0L282.4 465.0L283.2 466.6L284.0 465.6L284.8 467.0L285.6 466.1L286.4 467.4L287.2 466.6L288.0 466.7L288.8 468.0L289.6 467.2L290.4 468.4L291.2 467.5L292.0 468.8L292.8 467.8L293.6 469.2L294.4 468.1L295.2 469.5L296.0 468.6L296.8 469.9L297.6 469.0L298.4 470.1L299.2 469.2L300.0 470.5L300.9 469.7L301.7 469.7L302.5 470.9L303.3 470.2L304.1 471.3L304.9 470.5L305.7 471.7L306.5 470.9L307.3 472.0L308.1 471.2L308.9 472.5L309.7 471.6L310.5 472.7L311.3 472.0L312.1 473.0L312.9 472.4L313.7 473.4L314.5 473.6L315.3 473.0L316.1 474.0L316.9 473.5L317.7 474.6L318.5 473.9L319.3 475.2L320.1 474.4L320.9 475.6L321.7 475.0L322.5 476.1L323.3 475.5L324.1 476.5L324.9 475.9L325.7 476.9L326.5 476.4L327.3 476.6L328.1 477.5L328.9 476.9L329.7 477.8L330.5 477.1L331.3 478.2L332.1 477.5L332.9 478.6L333.7 477.8L334.5 478.8L335.3 478.1L336.1 479.1L336.9 478.4L337.7 479.5L338.5 478.8L339.3 479.7L340.1 479.9L340.9 479.2L341.7 480.2L342.5 479.5L343.3 480.4L344.1 479.8L344.9 480.8L345.7 480.1L346.5 481.0L347.3 480.4L348.1 481.3L348.9 480.7L349.7 481.6L350.5 481.1L351.3 481.9L352.1 481.3L352.9 482.2L353.7 482.3L354.5 481.7L355.3 482.6L356.1 482.0L356.9 482.9L357.7 482.3L358.5 483.2L359.3 482.5L360.1 483.5L360.9 482.8L361.7 483.8L362.5 483.1L363.3 484.0L364.1 483.5L364.9 484.2L365.7 483.7L366.5 483.9L367.3 484.6L368.1 484.1L368.9 484.9L369.7 484.4L370.5 485.1L371.3 484.6L372.1 485.4L372.9 484.8L373.7 485.6L374.5 485.0L375.3 485.8L376.1 485.3L377.0 486.0L377.8 485.4L378.6 486.1L379.4 486.2L380.2 485.8L381.0 486.4L381.8 485.9L382.6 486.7L383.4 486.0L384.2 486.9L385.0 486.3L385.8 487.1L386.6 486.5L387.4 487.2L388.2 486.7L389.0 487.4L389.8 486.8L390.6 487.6L391.4 487.0L392.2 487.1L393.0 487.8L393.8 487.3L394.6 487.9L395.4 487.4L396.2 488.2L397.0 487.6L397.8 488.3L398.6 487.7L399.4 488.5L400.2 487.9L401.0 488.6L401.8 488.2L402.6 488.8L403.4 488.3L404.2 488.9L405.0 489.0L405.8 488.5L406.6 489.1L407.4 488.7L408.2 489.3L409.0 488.8L409.8 489.5L410.6 489.0L411.4 489.6L412.2 489.2L413.0 489.8L413.8 489.3L414.6 489.9L415.4 489.5L416.2 490.1L417.0 489.6L417.8 490.2L418.6 490.3L419.4 489.9L420.2 490.5L421.0 490.1L421.8 490.7L422.6 490.2L423.4 490.8L424.2 490.3L425.0 490.9L425.8 490.5L426.6 491.1L427.4 490.7L428.2 491.3L429.0 490.9L429.8 491.4L430.6 491.1L431.4 491.2L432.2 491.6L433.0 491.3L433.8 491.8L434.6 491.5L435.4 492.0L436.2 491.6L437.0 492.3L437.8 491.8L438.6 492.4L439.4 492.0L440.2 492.5L441.0 492.1L441.8 492.7L442.6 492.3L443.4 492.9L444.2 492.9L445.0 492.6L445.8 493.1L446.6 492.7L447.4 493.3L448.2 492.9L449.0 493.4L449.8 492.9L450.6 493.5L451.4 493.1L452.3 493.6L453.1 493.2L453.9 493.8L454.7 493.3L455.5 493.8L456.3 493.5L457.1 493.6L457.9 494.0L458.7 493.7L459.5 494.1L460.3 493.8L461.1 494.2L461.9 493.8L462.7 494.4L463.5 494.0L464.3 494.5L465.1 494.1L465.9 494.5L466.7 494.1L467.5 494.6L468.3 494.3L469.1 494.7L469.9 494.4L470.7 494.5L471.5 494.9L472.3 494.5L473.1 495.0L473.9 494.6L474.7 495.2L475.5 494.7L476.3 495.2L477.1 494.8L477.9 495.3L478.7 495.0L479.5 495.4L480.3 495.1L481.1 495.6L481.9 495.2L482.7 495.6L483.5 495.7L484.3 495.4L485.1 495.8L485.9 495.5L486.7 496.0L487.5 495.6L488.3 496.1L489.1 495.7L489.9 496.2L490.7 495.8L491.5 496.3L492.3 495.9L493.1 496.4L493.9 496.1L494.7 496.5L495.5 496.2L496.3 496.2L497.1 496.6L497.9 496.4L498.7 496.7L499.5 496.4L500.3 496.8L501.1 496.5L501.9 496.9L502.7 496.6L503.5 497.0L504.3 496.7L505.1 497.1L505.9 496.8L506.7 497.2L507.5 496.9L508.3 497.3L509.1 497.3L509.9 497.0L510.7 497.4L511.5 497.1L512.3 497.5L513.1 497.2L513.9 497.6L514.7 497.3L515.5 497.7L516.3 497.3L517.1 497.8L517.9 497.5L518.7 497.8L519.5 497.5L520.3 497.9L521.1 497.6L521.9 498.0L522.7 498.0L523.5 497.7L524.3 498.1L525.1 497.8L525.9 498.2L526.7 497.8L527.6 498.3L528.4 497.9L529.2 498.3L530.0 498.0L530.8 498.4L531.6 498.1L532.4 498.5L533.2 498.2L534.0 498.5L534.8 498.2L535.6 498.3L536.4 498.6L537.2 498.3L538.0 498.7L538.8 498.4L539.6 498.7L540.4 498.4L541.2 498.9L542.0 498.5L542.8 498.9L543.6 498.6L544.4 498.9L545.2 498.7L546.0 499.0L546.8 498.7L547.6 499.0L548.4 499.1L549.2 498.8L550.0 499.2L550.8 498.9L551.6 499.2L552.4 498.9L553.2 499.3L554.0 499.0L554.8 499.3L555.6 499.0L556.4 499.4L557.2 499.1L558.0 499.4L558.8 499.2L559.6 499.5L560.4 499.2L561.2 499.2L562.0 499.5L562.8 499.3L563.6 499.6L564.4 499.3L565.2 499.7L566.0 499.4L566.8 499.7L567.6 499.4L568.4 499.8L569.2 499.5L570.0 499.8L570.8 499.5L571.6 499.8L572.4 499.6L573.2 499.9L574.0 499.6L574.8 499.7L575.6 499.9L576.4 499.7L577.2 500.0L578.0 499.7L578.8 500.1L579.6 499.8L580.4 500.1L581.2 499.8L582.0 500.2L582.8 499.9L583.6 500.2L584.4 499.9L585.2 500.2L586.0 500.0L586.8 500.2L587.6 500.2L588.4 500.1L589.2 500.3L590.0 500.1L590.8 500.3L591.6 500.1L592.4 500.4L593.2 500.1L594.0 500.4L594.8 500.2L595.6 500.5L596.4 500.2L597.2 500.5L598.0 500.2L598.8 500.5L599.6 500.3L600.4 500.3L601.2 500.6L602.0 500.3L602.8 500.6L603.7 500.4L604.5 500.6L605.3 500.4L606.1 500.7L606.9 500.4L607.7 500.7L608.5 500.5L609.3 500.7L610.1 500.5L610.9 500.8L611.7 500.5L612.5 500.8L613.3 500.8L614.1 500.6L614.9 500.8L615.7 500.6L616.5 500.9L617.3 500.6L618.1 500.9L618.9 500.6L619.7 500.9L620.5 500.7L621.3 501.0L622.1 500.7L622.9 501.0L623.7 500.8L624.5 501.0L625.3 500.8L626.1 501.0L626.9 501.0L627.7 500.8L628.5 501.1L629.3 500.9L630.1 501.1L630.9 500.9L631.7 501.1L632.5 500.9L633.3 501.2L634.1 500.9L634.9 501.2L635.7 501.0L636.5 501.2L637.3 501.0L638.1 501.2L638.9 501.0L639.7 501.0L640.5 501.2L641.3 501.0L642.1 501.3L642.9 501.1L643.7 501.3L644.5 501.1L645.3 501.3L646.1 501.1L646.9 501.3L647.7 501.1L648.5 501.4L649.3 501.1L650.1 501.4L650.9 501.2L651.7 501.4L652.5 501.4L653.3 501.2L654.1 501.4L654.9 501.2L655.7 501.5L656.5 501.3L657.3 501.5L658.1 501.2L658.9 501.5L659.7 501.3L660.5 501.5L661.3 501.3L662.1 501.5L662.9 501.3L663.7 501.5L664.5 501.4L665.3 501.4L666.1 501.6L666.9 501.4L667.7 501.6L668.5 501.4L669.3 501.6L670.1 501.4L670.9 501.6L671.7 501.4L672.5 501.7L673.3 501.5L674.1 501.7L674.9 501.5L675.7 501.7L676.5 501.5L677.3 501.7L678.1 501.5L679.0 501.5L679.8 501.7L680.6 501.5L681.4 501.7L682.2 501.5L683.0 501.8L683.8 501.6L684.6 501.8L685.4 501.6L686.2 501.8L687.0 501.6L687.8 501.8L688.6 501.6L689.4 501.8L690.2 501.6L691.0 501.8L691.8 501.8L692.6 501.6L693.4 501.8L694.2 501.7L695.0 501.9L695.8 501.7L696.6 501.9L697.4 501.7L698.2 501.9L699.0 501.7L699.8 501.9L700.6 501.7L701.4 501.9L702.2 501.7L703.0 501.9L703.8 501.8L704.6 501.8L705.4 501.9L706.2 501.8L707.0 501.9L707.8 501.8L708.6 502.0L709.4 501.8L710.2 502.0L711.0 501.8L711.8 502.0L712.6 501.8L713.4 502.0" stroke="#ff00ff" stroke-width="1.35" stroke-dasharray="1.15 1.72"/>
<path d="M111.8 177.7L112.6 185.0L113.4 181.1L114.2 187.9L115.0 184.5L115.8 190.4L116.6 187.9L117.4 192.8L118.2 192.9L119.0 194.6L119.8 196.9L120.6 196.0L121.4 200.8L122.2 197.7L123.0 204.0L123.8 200.5L124.6 206.9L125.4 203.0L126.2 210.0L127.0 206.2L127.8 212.5L128.6 210.1L129.4 215.5L130.2 214.0L131.0 217.3L131.8 218.7L132.6 218.8L133.4 222.2L134.2 221.0L135.0 225.7L135.8 222.5L136.6 229.5L137.4 225.3L138.2 232.5L139.0 228.1L139.8 235.4L140.6 231.6L141.4 237.6L142.2 235.9L143.0 240.3L143.8 239.6L144.6 242.9L145.4 244.4L146.2 243.6L147.0 248.5L147.8 245.8L148.6 251.6L149.4 248.2L150.3 255.2L151.1 250.4L151.9 257.6L152.7 253.9L153.5 260.8L154.3 258.2L155.1 263.7L155.9 261.5L156.7 266.6L157.5 265.7L158.3 267.0L159.1 270.9L159.9 269.5L160.7 275.1L161.5 272.4L162.3 278.3L163.1 275.1L163.9 282.1L164.7 278.5L165.5 285.5L166.3 281.9L167.1 288.1L167.9 285.8L168.7 291.5L169.5 289.9L170.3 294.6L171.1 296.7L171.9 294.4L172.7 300.1L173.5 297.5L174.3 303.6L175.1 300.3L175.9 307.1L176.7 303.6L177.5 311.0L178.3 307.5L179.1 314.2L179.9 311.1L180.7 317.4L181.5 314.5L182.3 320.5L183.1 318.5L183.9 320.5L184.7 325.9L185.5 323.8L186.3 329.1L187.1 326.5L187.9 332.8L188.7 329.7L189.5 336.5L190.3 332.9L191.1 340.0L191.9 336.1L192.7 342.6L193.5 339.5L194.3 345.5L195.1 342.6L195.9 348.4L196.7 345.8L197.5 347.3L198.3 352.7L199.1 349.7L199.9 355.4L200.7 352.4L201.5 358.7L202.3 355.3L203.1 361.3L203.9 357.8L204.7 363.8L205.5 360.1L206.3 366.7L207.1 363.1L207.9 368.9L208.7 366.4L209.5 371.8L210.3 372.9L211.1 370.4L211.9 376.0L212.7 372.4L213.5 378.5L214.3 375.1L215.1 380.8L215.9 377.3L216.7 383.2L217.5 379.4L218.3 385.1L219.1 382.3L219.9 387.1L220.7 384.2L221.5 389.2L222.3 386.2L223.1 387.0L223.9 391.9L224.7 389.2L225.6 393.9L226.4 391.2L227.2 395.9L228.0 392.7L228.8 398.1L229.6 394.9L230.4 400.0L231.2 396.8L232.0 401.5L232.8 398.8L233.6 403.6L234.4 400.9L235.2 405.1L236.0 406.3L236.8 404.0L237.6 407.9L238.4 405.8L239.2 410.1L240.0 407.3L240.8 412.0L241.6 409.2L242.4 413.6L243.2 410.9L244.0 415.4L244.8 412.8L245.6 416.9L246.4 414.8L247.2 418.9L248.0 416.6L248.8 420.3L249.6 421.1L250.4 418.8L251.2 422.8L252.0 420.2L252.8 424.5L253.6 421.9L254.4 425.9L255.2 423.4L256.0 427.5L256.8 424.9L257.6 428.9L258.4 426.4L259.2 430.1L260.0 427.9L260.8 431.6L261.6 429.7L262.4 430.5L263.2 433.9L264.0 431.9L264.8 435.1L265.6 432.7L266.4 436.5L267.2 434.1L268.0 438.0L268.8 435.4L269.6 439.0L270.4 436.7L271.2 440.2L272.0 438.1L272.8 441.3L273.6 439.3L274.4 442.0L275.2 442.7L276.0 441.1L276.8 443.9L277.6 442.0L278.4 444.7L279.2 443.2L280.0 446.0L280.8 443.9L281.6 446.8L282.4 444.9L283.2 448.1L284.0 446.4L284.8 449.1L285.6 447.4L286.4 450.0L287.2 448.5L288.0 449.0L288.8 451.3L289.6 449.8L290.4 452.3L291.2 450.6L292.0 453.2L292.8 451.5L293.6 453.7L294.4 452.2L295.2 454.8L296.0 452.8L296.8 455.5L297.6 453.7L298.4 456.2L299.2 454.6L300.0 456.9L300.9 455.3L301.7 455.5L302.5 457.7L303.3 456.2L304.1 458.2L304.9 456.7L305.7 459.0L306.5 457.4L307.3 459.5L308.1 457.8L308.9 460.1L309.7 458.5L310.5 460.5L311.3 459.0L312.1 460.9L312.9 459.7L313.7 461.3L314.5 461.7L315.3 460.3L316.1 462.2L316.9 460.8L317.7 462.9L318.5 461.4L319.3 463.4L320.1 462.0L320.9 463.8L321.7 462.4L322.5 464.4L323.3 463.1L324.1 464.7L324.9 463.6L325.7 465.2L326.5 464.0L327.3 464.3L328.1 466.1L328.9 465.0L329.7 466.4L330.5 465.3L331.3 466.8L332.1 465.6L332.9 467.4L333.7 466.1L334.5 467.9L335.3 466.5L336.1 468.2L336.9 467.0L337.7 468.5L338.5 467.6L339.3 469.0L340.1 469.1L340.9 468.2L341.7 469.7L342.5 468.6L343.3 470.2L344.1 469.0L344.9 470.5L345.7 469.2L346.5 470.9L347.3 469.8L348.1 471.3L348.9 470.1L349.7 471.7L350.5 470.6L351.3 472.1L352.1 471.0L352.9 472.4L353.7 472.6L354.5 471.7L355.3 473.0L356.1 471.9L356.9 473.3L357.7 472.3L358.5 473.6L359.3 472.7L360.1 474.2L360.9 473.0L361.7 474.5L362.5 473.5L363.3 474.8L364.1 473.9L364.9 475.2L365.7 474.3L366.5 474.4L367.3 475.6L368.1 474.8L368.9 476.1L369.7 475.1L370.5 476.5L371.3 475.4L372.1 476.8L372.9 475.7L373.7 477.1L374.5 476.1L375.3 477.4L376.1 476.4L377.0 477.8L377.8 476.9L378.6 478.0L379.4 478.2L380.2 477.4L381.0 478.6L381.8 477.8L382.6 479.0L383.4 478.0L384.2 479.2L385.0 478.3L385.8 479.6L386.6 478.7L387.4 479.9L388.2 479.0L389.0 480.2L389.8 479.5L390.6 480.6L391.4 479.8L392.2 480.0L393.0 481.0L393.8 480.3L394.6 481.3L395.4 480.5L396.2 481.6L397.0 480.8L397.8 481.8L398.6 481.1L399.4 482.2L400.2 481.4L401.0 482.4L401.8 481.6L402.6 482.7L403.4 481.9L404.2 482.8L405.0 483.0L405.8 482.2L406.6 483.2L407.4 482.5L408.2 483.5L409.0 482.7L409.8 483.8L410.6 482.9L411.4 483.9L412.2 483.2L413.0 484.2L413.8 483.4L414.6 484.3L415.4 483.7L416.2 484.5L417.0 483.8L417.8 484.7L418.6 484.8L419.4 484.2L420.2 485.0L421.0 484.3L421.8 485.3L422.6 484.6L423.4 485.5L424.2 484.8L425.0 485.7L425.8 485.0L426.6 485.9L427.4 485.2L428.2 486.0L429.0 485.5L429.8 486.3L430.6 485.8L431.4 485.8L432.2 486.7L433.0 486.0L433.8 486.8L434.6 486.2L435.4 487.1L436.2 486.4L437.0 487.3L437.8 486.7L438.6 487.4L439.4 486.8L440.2 487.7L441.0 487.1L441.8 487.8L442.6 487.3L443.4 488.1L444.2 488.2L445.0 487.7L445.8 488.3L446.6 487.8L447.4 488.6L448.2 488.1L449.0 488.8L449.8 488.2L450.6 489.0L451.4 488.4L452.3 489.2L453.1 488.7L453.9 489.4L454.7 488.9L455.5 489.6L456.3 489.1L457.1 489.2L457.9 489.9L458.7 489.4L459.5 490.1L460.3 489.7L461.1 490.3L461.9 489.8L462.7 490.5L463.5 490.0L464.3 490.7L465.1 490.2L465.9 490.9L466.7 490.4L467.5 491.1L468.3 490.6L469.1 491.2L469.9 490.9L470.7 490.9L471.5 491.5L472.3 491.1L473.1 491.7L473.9 491.2L474.7 491.9L475.5 491.3L476.3 492.0L477.1 491.5L477.9 492.2L478.7 491.7L479.5 492.3L480.3 491.9L481.1 492.4L481.9 492.0L482.7 492.6L483.5 492.6L484.3 492.3L485.1 492.8L485.9 492.4L486.7 493.0L487.5 492.5L488.3 493.1L489.1 492.6L489.9 493.2L490.7 492.8L491.5 493.4L492.3 492.9L493.1 493.5L493.9 493.1L494.7 493.6L495.5 493.2L496.3 493.3L497.1 493.8L497.9 493.4L498.7 493.9L499.5 493.5L500.3 494.0L501.1 493.6L501.9 494.2L502.7 493.7L503.5 494.3L504.3 493.9L505.1 494.4L505.9 494.0L506.7 494.5L507.5 494.1L508.3 494.6L509.1 494.7L509.9 494.3L510.7 494.8L511.5 494.4L512.3 494.9L513.1 494.5L513.9 495.1L514.7 494.6L515.5 495.2L516.3 494.7L517.1 495.2L517.9 494.9L518.7 495.3L519.5 494.9L520.3 495.4L521.1 495.0L521.9 495.5L522.7 495.6L523.5 495.2L524.3 495.7L525.1 495.3L525.9 495.8L526.7 495.4L527.6 495.9L528.4 495.5L529.2 496.0L530.0 495.6L530.8 496.1L531.6 495.7L532.4 496.1L533.2 495.7L534.0 496.2L534.8 495.9L535.6 495.9L536.4 496.4L537.2 496.0L538.0 496.4L538.8 496.1L539.6 496.5L540.4 496.1L541.2 496.6L542.0 496.2L542.8 496.7L543.6 496.3L544.4 496.8L545.2 496.4L546.0 496.9L546.8 496.5L547.6 496.9L548.4 497.0L549.2 496.7L550.0 497.0L550.8 496.7L551.6 497.2L552.4 496.8L553.2 497.2L554.0 496.8L554.8 497.3L555.6 496.9L556.4 497.4L557.2 497.0L558.0 497.4L558.8 497.1L559.6 497.5L560.4 497.2L561.2 497.3L562.0 497.6L562.8 497.3L563.6 497.7L564.4 497.4L565.2 497.8L566.0 497.4L566.8 497.9L567.6 497.5L568.4 497.9L569.2 497.6L570.0 498.0L570.8 497.7L571.6 498.1L572.4 497.7L573.2 498.1L574.0 497.8L574.8 497.9L575.6 498.2L576.4 497.9L577.2 498.3L578.0 498.0L578.8 498.3L579.6 498.0L580.4 498.4L581.2 498.1L582.0 498.5L582.8 498.2L583.6 498.5L584.4 498.2L585.2 498.6L586.0 498.3L586.8 498.7L587.6 498.7L588.4 498.4L589.2 498.7L590.0 498.5L590.8 498.9L591.6 498.5L592.4 498.9L593.2 498.6L594.0 498.9L594.8 498.7L595.6 499.0L596.4 498.7L597.2 499.1L598.0 498.8L598.8 499.1L599.6 498.9L600.4 498.9L601.2 499.2L602.0 498.9L602.8 499.3L603.7 499.0L604.5 499.3L605.3 499.0L606.1 499.4L606.9 499.1L607.7 499.4L608.5 499.1L609.3 499.5L610.1 499.2L610.9 499.5L611.7 499.3L612.5 499.6L613.3 499.6L614.1 499.3L614.9 499.7L615.7 499.4L616.5 499.7L617.3 499.5L618.1 499.8L618.9 499.5L619.7 499.8L620.5 499.5L621.3 499.9L622.1 499.6L622.9 499.9L623.7 499.7L624.5 500.0L625.3 499.7L626.1 500.0L626.9 500.0L627.7 499.8L628.5 500.0L629.3 499.8L630.1 500.1L630.9 499.9L631.7 500.2L632.5 499.9L633.3 500.2L634.1 499.9L634.9 500.3L635.7 500.0L636.5 500.3L637.3 500.1L638.1 500.3L638.9 500.1L639.7 500.1L640.5 500.4L641.3 500.2L642.1 500.4L642.9 500.2L643.7 500.5L644.5 500.2L645.3 500.5L646.1 500.3L646.9 500.5L647.7 500.3L648.5 500.6L649.3 500.4L650.1 500.6L650.9 500.4L651.7 500.6L652.5 500.7L653.3 500.5L654.1 500.7L654.9 500.5L655.7 500.7L656.5 500.5L657.3 500.8L658.1 500.6L658.9 500.8L659.7 500.6L660.5 500.8L661.3 500.6L662.1 500.9L662.9 500.7L663.7 500.9L664.5 500.7L665.3 500.7L666.1 500.9L666.9 500.8L667.7 501.0L668.5 500.8L669.3 501.0L670.1 500.8L670.9 501.1L671.7 500.8L672.5 501.1L673.3 500.9L674.1 501.1L674.9 500.9L675.7 501.1L676.5 501.0L677.3 501.2L678.1 501.0L679.0 501.0L679.8 501.2L680.6 501.0L681.4 501.2L682.2 501.1L683.0 501.3L683.8 501.0L684.6 501.3L685.4 501.1L686.2 501.3L687.0 501.1L687.8 501.4L688.6 501.2L689.4 501.4L690.2 501.2L691.0 501.4L691.8 501.4L692.6 501.2L693.4 501.4L694.2 501.3L695.0 501.5L695.8 501.3L696.6 501.5L697.4 501.3L698.2 501.5L699.0 501.3L699.8 501.5L700.6 501.3L701.4 501.5L702.2 501.4L703.0 501.6L703.8 501.4L704.6 501.4L705.4 501.6L706.2 501.4L707.0 501.6L707.8 501.5L708.6 501.7L709.4 501.5L710.2 501.7L711.0 501.5L711.8 501.7L712.6 501.5L713.4 501.7" stroke="#00ffff" stroke-width="1.35" stroke-dasharray="6.90 2.30 1.15 2.30"/>
<path d="M111.8 71.2L112.6 77.8L113.4 71.7L114.2 79.0L115.0 74.0L115.8 79.4L116.6 76.3L117.4 80.0L118.2 78.8L119.0 79.9L119.8 81.5L120.6 79.9L121.4 83.2L122.2 79.2L123.0 85.3L123.8 79.6L124.6 86.8L125.4 80.9L126.2 88.3L127.0 82.5L127.8 89.2L128.6 84.9L129.4 89.7L130.2 87.6L131.0 91.1L131.8 91.1L132.6 90.2L133.4 93.4L134.2 90.3L135.0 95.5L135.8 91.0L136.6 97.0L137.4 91.6L138.2 98.9L139.0 93.2L139.8 100.3L140.6 94.9L141.4 101.5L142.2 98.2L143.0 102.4L143.8 100.5L144.6 103.3L145.4 104.5L146.2 102.7L147.0 105.9L147.8 102.8L148.6 108.3L149.4 103.4L150.3 110.3L151.1 104.8L151.9 112.0L152.7 106.8L153.5 113.4L154.3 108.9L155.1 114.1L155.9 111.8L156.7 115.9L157.5 114.2L158.3 115.1L159.1 119.3L159.9 115.9L160.7 121.4L161.5 116.8L162.3 123.2L163.1 118.7L163.9 125.1L164.7 120.4L165.5 127.4L166.3 122.7L167.1 129.6L167.9 125.4L168.7 131.1L169.5 128.6L170.3 133.4L171.1 134.4L171.9 132.1L172.7 137.6L173.5 133.7L174.3 140.2L175.1 136.0L175.9 143.2L176.7 138.1L177.5 145.5L178.3 140.6L179.1 148.2L179.9 143.7L180.7 149.6L181.5 145.8L182.3 152.1L183.1 149.1L183.9 151.0L184.7 155.6L185.5 152.6L186.3 158.9L187.1 154.7L187.9 161.2L188.7 156.4L189.5 163.5L190.3 158.3L191.1 165.6L191.9 161.6L192.7 168.3L193.5 164.7L194.3 170.7L195.1 167.4L195.9 173.4L196.7 170.1L197.5 171.4L198.3 177.6L199.1 173.6L199.9 180.0L200.7 176.8L201.5 183.1L202.3 178.7L203.1 185.8L203.9 181.3L204.7 188.1L205.5 184.1L206.3 190.9L207.1 186.7L207.9 193.3L208.7 189.7L209.5 195.4L210.3 197.0L211.1 193.9L211.9 199.6L212.7 196.2L213.5 202.6L214.3 199.0L215.1 205.1L215.9 201.5L216.7 208.0L217.5 203.4L218.3 210.6L219.1 206.8L219.9 213.8L220.7 210.0L221.5 216.1L222.3 213.6L223.1 214.7L223.9 220.4L224.7 217.3L225.6 223.4L226.4 219.8L227.2 227.0L228.0 222.8L228.8 229.5L229.6 225.9L230.4 232.9L231.2 228.8L232.0 236.0L232.8 232.3L233.6 238.7L234.4 235.6L235.2 241.9L236.0 243.3L236.8 239.8L237.6 246.6L238.4 243.3L239.2 249.0L240.0 245.8L240.8 253.4L241.6 249.1L242.4 256.5L243.2 251.9L244.0 259.5L244.8 255.5L245.6 261.9L246.4 259.0L247.2 265.4L248.0 262.2L248.8 268.3L249.6 269.9L250.4 266.7L251.2 273.7L252.0 270.0L252.8 277.4L253.6 273.3L254.4 280.4L255.2 276.2L256.0 283.8L256.8 280.4L257.6 287.6L258.4 284.4L259.2 291.3L260.0 288.3L260.8 294.9L261.6 292.3L262.4 294.1L263.2 300.4L264.0 297.9L264.8 304.6L265.6 301.5L266.4 307.7L267.2 304.3L268.0 311.6L268.8 308.1L269.6 315.3L270.4 311.4L271.2 318.2L272.0 314.9L272.8 321.3L273.6 319.0L274.4 324.6L275.2 325.9L276.0 322.9L276.8 329.0L277.6 325.8L278.4 331.9L279.2 328.9L280.0 334.7L280.8 331.8L281.6 338.1L282.4 334.3L283.2 340.5L284.0 337.7L284.8 343.4L285.6 341.1L286.4 346.6L287.2 344.0L288.0 345.5L288.8 350.8L289.6 348.7L290.4 353.7L291.2 351.4L292.0 356.9L292.8 353.6L293.6 359.7L294.4 357.1L295.2 362.7L296.0 360.2L296.8 365.8L297.6 363.3L298.4 368.6L299.2 366.3L300.0 371.2L300.9 368.9L301.7 370.6L302.5 375.5L303.3 373.6L304.1 378.2L304.9 375.9L305.7 380.9L306.5 378.6L307.3 383.5L308.1 381.4L308.9 386.5L309.7 384.1L310.5 389.1L311.3 386.8L312.1 391.5L312.9 389.9L313.7 394.2L314.5 395.4L315.3 393.3L316.1 397.9L316.9 395.7L317.7 400.3L318.5 398.2L319.3 403.3L320.1 400.4L320.9 405.3L321.7 403.2L322.5 407.7L323.3 405.6L324.1 409.9L324.9 408.0L325.7 411.6L326.5 410.0L327.3 410.9L328.1 414.9L328.9 412.6L329.7 416.4L330.5 414.3L331.3 418.5L332.1 416.0L332.9 420.1L333.7 417.6L334.5 421.7L335.3 419.4L336.1 423.3L336.9 421.2L337.7 424.9L338.5 422.7L339.3 426.4L340.1 427.1L340.9 425.3L341.7 428.7L342.5 426.8L343.3 430.2L344.1 428.1L344.9 432.0L345.7 429.5L346.5 433.3L347.3 430.8L348.1 434.5L348.9 432.1L349.7 435.7L350.5 433.9L351.3 437.1L352.1 435.4L352.9 438.5L353.7 439.1L354.5 437.4L355.3 440.5L356.1 438.5L356.9 441.9L357.7 439.8L358.5 442.9L359.3 440.9L360.1 444.3L360.9 442.1L361.7 445.3L362.5 443.3L363.3 446.1L364.1 444.4L364.9 447.1L365.7 445.2L366.5 445.5L367.3 448.2L368.1 446.4L368.9 449.0L369.7 447.0L370.5 449.7L371.3 447.6L372.1 450.6L372.9 448.2L373.7 451.4L374.5 449.2L375.3 452.1L376.1 449.9L377.0 452.7L377.8 450.8L378.6 453.1L379.4 453.8L380.2 452.1L381.0 454.6L381.8 452.7L382.6 455.4L383.4 453.4L384.2 456.1L385.0 454.1L385.8 456.8L386.6 454.9L387.4 457.5L388.2 455.6L389.0 458.0L389.8 456.3L390.6 458.6L391.4 456.9L392.2 457.1L393.0 459.4L393.8 457.7L394.6 460.0L395.4 458.0L396.2 460.5L397.0 458.7L397.8 461.0L398.6 459.2L399.4 461.5L400.2 459.6L401.0 462.0L401.8 460.5L402.6 462.4L403.4 460.9L404.2 463.0L405.0 463.0L405.8 461.8L406.6 463.7L407.4 462.3L408.2 464.0L409.0 462.5L409.8 464.6L410.6 463.0L411.4 465.1L412.2 463.6L413.0 465.4L413.8 464.0L414.6 465.9L415.4 464.4L416.2 466.0L417.0 464.9L417.8 466.3L418.6 466.5L419.4 465.4L420.2 466.9L421.0 465.7L421.8 467.1L422.6 466.0L423.4 467.5L424.2 466.2L425.0 467.9L425.8 466.5L426.6 468.1L427.4 466.9L428.2 468.4L429.0 467.4L429.8 468.7L430.6 467.7L431.4 468.0L432.2 469.2L433.0 468.2L433.8 469.4L434.6 468.6L435.4 469.8L436.2 468.8L437.0 470.1L437.8 469.1L438.6 470.4L439.4 469.5L440.2 470.6L441.0 469.8L441.8 470.9L442.6 470.0L443.4 471.2L444.2 471.2L445.0 470.5L445.8 471.6L446.6 470.7L447.4 471.8L448.2 471.0L449.0 472.0L449.8 471.2L450.6 472.3L451.4 471.5L452.3 472.4L453.1 471.6L453.9 472.7L454.7 472.0L455.5 472.9L456.3 472.2L457.1 472.4L457.9 473.2L458.7 472.5L459.5 473.4L460.3 472.7L461.1 473.7L461.9 472.9L462.7 474.0L463.5 473.2L464.3 474.2L465.1 473.4L465.9 474.5L466.7 473.8L467.5 474.7L468.3 474.1L469.1 475.0L469.9 474.4L470.7 474.6L471.5 475.4L472.3 474.9L473.1 475.8L473.9 475.1L474.7 476.2L475.5 475.4L476.3 476.5L477.1 475.8L477.9 476.7L478.7 476.1L479.5 477.1L480.3 476.5L481.1 477.4L481.9 476.9L482.7 477.7L483.5 478.0L484.3 477.5L485.1 478.3L485.9 477.7L486.7 478.7L487.5 478.1L488.3 479.1L489.1 478.5L489.9 479.4L490.7 478.8L491.5 479.8L492.3 479.2L493.1 480.2L493.9 479.5L494.7 480.4L495.5 479.9L496.3 480.1L497.1 481.0L497.9 480.4L498.7 481.3L499.5 480.7L500.3 481.6L501.1 481.0L501.9 482.0L502.7 481.5L503.5 482.3L504.3 481.7L505.1 482.7L505.9 482.1L506.7 482.9L507.5 482.5L508.3 483.3L509.1 483.5L509.9 483.0L510.7 483.8L511.5 483.3L512.3 484.1L513.1 483.6L513.9 484.5L514.7 483.9L515.5 484.8L516.3 484.2L517.1 485.1L517.9 484.6L518.7 485.4L519.5 484.8L520.3 485.6L521.1 485.2L521.9 485.9L522.7 486.1L523.5 485.7L524.3 486.4L525.1 485.9L525.9 486.7L526.7 486.1L527.6 486.9L528.4 486.4L529.2 487.2L530.0 486.6L530.8 487.4L531.6 487.0L532.4 487.7L533.2 487.3L534.0 487.9L534.8 487.5L535.6 487.6L536.4 488.3L537.2 487.9L538.0 488.5L538.8 488.1L539.6 488.8L540.4 488.4L541.2 489.0L542.0 488.5L542.8 489.3L543.6 488.8L544.4 489.5L545.2 489.1L546.0 489.7L546.8 489.4L547.6 490.0L548.4 490.1L549.2 489.8L550.0 490.3L550.8 489.9L551.6 490.6L552.4 490.2L553.2 490.8L554.0 490.4L554.8 491.1L555.6 490.6L556.4 491.3L557.2 490.9L558.0 491.5L558.8 491.1L559.6 491.8L560.4 491.4L561.2 491.5L562.0 492.0L562.8 491.7L563.6 492.3L564.4 491.9L565.2 492.5L566.0 492.1L566.8 492.7L567.6 492.3L568.4 492.9L569.2 492.5L570.0 493.1L570.8 492.7L571.6 493.2L572.4 492.8L573.2 493.4L574.0 493.1L574.8 493.1L575.6 493.6L576.4 493.3L577.2 493.8L578.0 493.5L578.8 494.0L579.6 493.6L580.4 494.2L581.2 493.8L582.0 494.3L582.8 493.9L583.6 494.5L584.4 494.1L585.2 494.6L586.0 494.2L586.8 494.7L587.6 494.8L588.4 494.4L589.2 494.9L590.0 494.5L590.8 495.0L591.6 494.6L592.4 495.1L593.2 494.7L594.0 495.2L594.8 494.8L595.6 495.3L596.4 494.9L597.2 495.4L598.0 495.0L598.8 495.5L599.6 495.1L600.4 495.2L601.2 495.6L602.0 495.3L602.8 495.7L603.7 495.3L604.5 495.8L605.3 495.4L606.1 495.9L606.9 495.4L607.7 496.0L608.5 495.5L609.3 496.0L610.1 495.6L610.9 496.1L611.7 495.8L612.5 496.1L613.3 496.1L614.1 495.8L614.9 496.2L615.7 495.9L616.5 496.3L617.3 495.9L618.1 496.4L618.9 496.0L619.7 496.4L620.5 496.0L621.3 496.5L622.1 496.1L622.9 496.6L623.7 496.2L624.5 496.6L625.3 496.3L626.1 496.6L626.9 496.7L627.7 496.3L628.5 496.7L629.3 496.4L630.1 496.8L630.9 496.4L631.7 496.8L632.5 496.4L633.3 496.9L634.1 496.5L634.9 496.9L635.7 496.6L636.5 497.0L637.3 496.7L638.1 497.0L638.9 496.7L639.7 496.7L640.5 497.1L641.3 496.8L642.1 497.2L642.9 496.8L643.7 497.2L644.5 496.8L645.3 497.3L646.1 496.9L646.9 497.3L647.7 497.0L648.5 497.4L649.3 497.1L650.1 497.5L650.9 497.1L651.7 497.5L652.5 497.5L653.3 497.2L654.1 497.5L654.9 497.3L655.7 497.6L656.5 497.3L657.3 497.7L658.1 497.3L658.9 497.8L659.7 497.4L660.5 497.8L661.3 497.5L662.1 497.9L662.9 497.5L663.7 497.9L664.5 497.6L665.3 497.7L666.1 498.0L666.9 497.7L667.7 498.0L668.5 497.8L669.3 498.1L670.1 497.8L670.9 498.2L671.7 497.9L672.5 498.3L673.3 497.9L674.1 498.3L674.9 498.0L675.7 498.4L676.5 498.1L677.3 498.4L678.1 498.1L679.0 498.2L679.8 498.5L680.6 498.2L681.4 498.5L682.2 498.3L683.0 498.6L683.8 498.3L684.6 498.7L685.4 498.3L686.2 498.7L687.0 498.4L687.8 498.8L688.6 498.5L689.4 498.8L690.2 498.6L691.0 498.8L691.8 498.9L692.6 498.6L693.4 498.9L694.2 498.6L695.0 499.0L695.8 498.7L696.6 499.0L697.4 498.7L698.2 499.0L699.0 498.7L699.8 499.1L700.6 498.8L701.4 499.1L702.2 498.9L703.0 499.1L703.8 498.9L704.6 498.9L705.4 499.2L706.2 498.9L707.0 499.2L707.8 498.9L708.6 499.3L709.4 499.0L710.2 499.3L711.0 499.0L711.8 499.3L712.6 499.0L713.4 499.3" stroke="#ff4d00" stroke-width="1.35" stroke-dasharray="1.15 2.30 6.90 2.30 1.15 2.30"/>
</g>
<g clip-path="url(#c)" fill="none">
<path d="M111.8 379.7L113.5 381.7L115.2 383.8L116.9 386.0L118.6 388.1L120.2 390.2L121.9 392.2L123.6 394.2L125.3 396.2L127.0 398.1L128.7 400.0L130.4 401.9L132.1 403.8L133.8 405.7L135.5 407.5L137.2 409.3L138.8 411.1L140.5 412.8L142.2 414.5L143.9 416.1L145.6 417.8L147.3 419.4L149.0 420.9L150.7 422.4L152.4 423.9L154.1 425.4L155.7 426.8L157.4 428.2L159.1 429.6L160.8 431.0L162.5 432.3L164.2 433.6L165.9 434.9L167.6 436.1L169.3 437.4L170.9 438.6L172.6 439.7L174.3 440.9L176.0 442.0L177.7 443.1L179.4 444.2L181.1 445.3L182.8 446.4L184.5 447.4L186.2 448.4L187.8 449.4L189.5 450.4L191.2 451.3L192.9 452.3L194.6 453.2L196.3 454.1L198.0 455.0L199.7 455.8L201.4 456.7L203.1 457.5L204.8 458.3L206.4 459.1L208.1 459.9L209.8 460.7L211.5 461.5L213.2 462.2L214.9 462.9L216.6 463.6L218.3 464.3L220.0 465.0L221.6 465.7L223.3 466.4L225.0 467.0L226.7 467.6L228.4 468.3L230.1 468.9L231.8 469.5L233.5 470.1L235.2 470.6L236.9 471.2L238.6 471.8L240.2 472.3L241.9 472.8L243.6 473.4L245.3 473.9L247.0 474.4L248.7 474.9L250.4 475.4L252.1 475.9L253.8 476.3L255.4 476.8L257.1 477.3L258.8 477.7L260.5 478.2L262.2 478.6L263.9 479.0L265.6 479.4L267.3 479.9L269.0 480.3L270.7 480.7L272.4 481.1L274.0 481.4L275.7 481.8L277.4 482.2L279.1 482.6L280.8 482.9L282.5 483.3L284.2 483.6L285.9 484.0L287.6 484.3L289.2 484.6L290.9 485.0L292.6 485.3L294.3 485.6L296.0 485.9L297.7 486.2L299.4 486.5L301.1 486.8L302.8 487.1L304.5 487.4L306.1 487.7L307.8 488.0L309.5 488.3L311.2 488.5L312.9 488.8L314.6 489.1L316.3 489.3L318.0 489.6L319.7 489.8L321.4 490.1L323.1 490.3L324.7 490.5L326.4 490.8L328.1 491.0L329.8 491.2L331.5 491.4L333.2 491.7L334.9 491.9L336.6 492.1L338.3 492.3L339.9 492.5L341.6 492.6L343.3 492.8L345.0 493.0L346.7 493.2L348.4 493.4L350.1 493.5L351.8 493.7L353.5 493.9L355.2 494.0L356.9 494.2L358.5 494.3L360.2 494.5L361.9 494.6L363.6 494.8L365.3 494.9L367.0 495.1L368.7 495.2L370.4 495.3L372.1 495.5L373.8 495.6L375.4 495.7L377.1 495.9L378.8 496.0L380.5 496.1L382.2 496.2L383.9 496.3L385.6 496.5L387.3 496.6L389.0 496.7L390.7 496.8L392.3 496.9L394.0 497.0L395.7 497.1L397.4 497.2L399.1 497.3L400.8 497.4L402.5 497.5L404.2 497.6L405.9 497.7L407.6 497.8L409.2 497.9L410.9 498.0L412.6 498.0L414.3 498.1L416.0 498.2L417.7 498.3L419.4 498.4L421.1 498.5L422.8 498.5L424.4 498.6L426.1 498.7L427.8 498.8L429.5 498.8L431.2 498.9L432.9 499.0L434.6 499.0L436.3 499.1L438.0 499.2L439.7 499.2L441.4 499.3L443.0 499.4L444.7 499.4L446.4 499.5L448.1 499.5L449.8 499.6L451.5 499.7L453.2 499.7L454.9 499.8L456.6 499.8L458.2 499.9L459.9 499.9L461.6 500.0L463.3 500.0L465.0 500.1L466.7 500.1L468.4 500.2L470.1 500.2L471.8 500.3L473.5 500.3L475.2 500.3L476.8 500.4L478.5 500.4L480.2 500.5L481.9 500.5L483.6 500.6L485.3 500.6L487.0 500.6L488.7 500.7L490.4 500.7L492.1 500.7L493.7 500.8L495.4 500.8L497.1 500.8L498.8 500.9L500.5 500.9L502.2 500.9L503.9 501.0L505.6 501.0L507.3 501.0L508.9 501.1L510.6 501.1L512.3 501.1L514.0 501.2L515.7 501.2L517.4 501.2L519.1 501.2L520.8 501.3L522.5 501.3L524.2 501.3L525.9 501.3L527.5 501.4L529.2 501.4L530.9 501.4L532.6 501.4L534.3 501.5L536.0 501.5L537.7 501.5L539.4 501.5L541.1 501.5L542.8 501.6L544.4 501.6L546.1 501.6L547.8 501.6L549.5 501.7L551.2 501.7L552.9 501.7L554.6 501.7L556.3 501.7L558.0 501.7L559.6 501.8L561.3 501.8L563.0 501.8L564.7 501.8L566.4 501.8L568.1 501.8L569.8 501.9L571.5 501.9L573.2 501.9L574.9 501.9L576.5 501.9L578.2 501.9L579.9 501.9L581.6 502.0L583.3 502.0L585.0 502.0L586.7 502.0L588.4 502.0L590.1 502.0L591.8 502.0L593.4 502.0L595.1 502.1L596.8 502.1L598.5 502.1L600.2 502.1L601.9 502.1L603.6 502.1L605.3 502.1L607.0 502.1L608.7 502.1L610.4 502.2L612.0 502.2L613.7 502.2L615.4 502.2L617.1 502.2L618.8 502.2L620.5 502.2L622.2 502.2L623.9 502.2L625.6 502.2L627.2 502.2L628.9 502.3L630.6 502.3L632.3 502.3L634.0 502.3L635.7 502.3L637.4 502.3L639.1 502.3L640.8 502.3L642.5 502.3L644.1 502.3L645.8 502.3L647.5 502.3L649.2 502.3L650.9 502.4L652.6 502.4L654.3 502.4L656.0 502.4L657.7 502.4L659.4 502.4L661.0 502.4L662.7 502.4L664.4 502.4L666.1 502.4L667.8 502.4L669.5 502.4L671.2 502.4L672.9 502.4L674.6 502.4L676.3 502.4L677.9 502.4L679.6 502.4L681.3 502.4L683.0 502.5L684.7 502.5L686.4 502.5L688.1 502.5L689.8 502.5L691.5 502.5L693.2 502.5L694.8 502.5L696.5 502.5L698.2 502.5L699.9 502.5L701.6 502.5L703.3 502.5L705.0 502.5L706.7 502.5L708.4 502.5L710.1 502.5L711.8 502.5L713.4 502.5L715.1 502.5" stroke="#000" stroke-width="0.75" stroke-dasharray="2.30 2.30 2.30 6.90"/>
<path d="M111.8 266.7L113.5 270.2L115.2 273.7L116.9 277.2L118.6 280.7L120.2 284.2L121.9 287.7L123.6 291.2L125.3 294.7L127.0 298.1L128.7 301.6L130.4 304.9L132.1 308.3L133.8 311.7L135.5 315.1L137.2 318.5L138.8 322.0L140.5 325.6L142.2 329.3L143.9 332.9L145.6 336.4L147.3 339.6L149.0 342.8L150.7 345.9L152.4 348.9L154.1 351.9L155.7 354.8L157.4 357.6L159.1 360.3L160.8 363.0L162.5 365.6L164.2 368.1L165.9 370.6L167.6 373.1L169.3 375.5L170.9 377.8L172.6 380.1L174.3 382.3L176.0 384.5L177.7 386.7L179.4 388.8L181.1 390.9L182.8 392.9L184.5 394.9L186.2 396.8L187.8 398.8L189.5 400.6L191.2 402.5L192.9 404.3L194.6 406.1L196.3 407.9L198.0 409.6L199.7 411.3L201.4 413.0L203.1 414.6L204.8 416.3L206.4 417.9L208.1 419.4L209.8 421.0L211.5 422.5L213.2 424.0L214.9 425.4L216.6 426.8L218.3 428.2L220.0 429.6L221.6 431.0L223.3 432.3L225.0 433.6L226.7 434.9L228.4 436.1L230.1 437.3L231.8 438.5L233.5 439.7L235.2 440.9L236.9 442.0L238.6 443.1L240.2 444.2L241.9 445.3L243.6 446.4L245.3 447.4L247.0 448.4L248.7 449.4L250.4 450.4L252.1 451.4L253.8 452.3L255.4 453.3L257.1 454.2L258.8 455.1L260.5 456.0L262.2 456.8L263.9 457.7L265.6 458.5L267.3 459.3L269.0 460.1L270.7 460.9L272.4 461.7L274.0 462.4L275.7 463.2L277.4 463.9L279.1 464.7L280.8 465.4L282.5 466.1L284.2 466.8L285.9 467.4L287.6 468.1L289.2 468.8L290.9 469.4L292.6 470.0L294.3 470.7L296.0 471.3L297.7 471.9L299.4 472.5L301.1 473.0L302.8 473.6L304.5 474.2L306.1 474.7L307.8 475.3L309.5 475.8L311.2 476.3L312.9 476.8L314.6 477.3L316.3 477.8L318.0 478.3L319.7 478.7L321.4 479.2L323.1 479.6L324.7 480.1L326.4 480.5L328.1 480.9L329.8 481.3L331.5 481.7L333.2 482.1L334.9 482.5L336.6 482.9L338.3 483.2L339.9 483.6L341.6 484.0L343.3 484.3L345.0 484.7L346.7 485.0L348.4 485.3L350.1 485.6L351.8 486.0L353.5 486.3L355.2 486.6L356.9 486.9L358.5 487.2L360.2 487.5L361.9 487.7L363.6 488.0L365.3 488.3L367.0 488.6L368.7 488.8L370.4 489.1L372.1 489.3L373.8 489.6L375.4 489.8L377.1 490.0L378.8 490.3L380.5 490.5L382.2 490.7L383.9 491.0L385.6 491.2L387.3 491.4L389.0 491.6L390.7 491.8L392.3 492.0L394.0 492.2L395.7 492.4L397.4 492.6L399.1 492.8L400.8 493.0L402.5 493.1L404.2 493.3L405.9 493.5L407.6 493.7L409.2 493.8L410.9 494.0L412.6 494.2L414.3 494.3L416.0 494.5L417.7 494.6L419.4 494.8L421.1 494.9L422.8 495.1L424.4 495.2L426.1 495.3L427.8 495.5L429.5 495.6L431.2 495.7L432.9 495.9L434.6 496.0L436.3 496.1L438.0 496.2L439.7 496.4L441.4 496.5L443.0 496.6L444.7 496.7L446.4 496.8L448.1 496.9L449.8 497.0L451.5 497.1L453.2 497.2L454.9 497.4L456.6 497.4L458.2 497.5L459.9 497.6L461.6 497.7L463.3 497.8L465.0 497.9L466.7 498.0L468.4 498.1L470.1 498.2L471.8 498.3L473.5 498.3L475.2 498.4L476.8 498.5L478.5 498.6L480.2 498.7L481.9 498.7L483.6 498.8L485.3 498.9L487.0 499.0L488.7 499.0L490.4 499.1L492.1 499.2L493.7 499.2L495.4 499.3L497.1 499.4L498.8 499.4L500.5 499.5L502.2 499.5L503.9 499.6L505.6 499.6L507.3 499.7L508.9 499.8L510.6 499.8L512.3 499.9L514.0 499.9L515.7 500.0L517.4 500.0L519.1 500.1L520.8 500.1L522.5 500.2L524.2 500.2L525.9 500.3L527.5 500.3L529.2 500.4L530.9 500.4L532.6 500.4L534.3 500.5L536.0 500.5L537.7 500.6L539.4 500.6L541.1 500.6L542.8 500.7L544.4 500.7L546.1 500.8L547.8 500.8L549.5 500.8L551.2 500.9L552.9 500.9L554.6 500.9L556.3 501.0L558.0 501.0L559.6 501.0L561.3 501.1L563.0 501.1L564.7 501.1L566.4 501.1L568.1 501.2L569.8 501.2L571.5 501.2L573.2 501.3L574.9 501.3L576.5 501.3L578.2 501.3L579.9 501.4L581.6 501.4L583.3 501.4L585.0 501.4L586.7 501.5L588.4 501.5L590.1 501.5L591.8 501.5L593.4 501.5L595.1 501.6L596.8 501.6L598.5 501.6L600.2 501.6L601.9 501.7L603.6 501.7L605.3 501.7L607.0 501.7L608.7 501.7L610.4 501.7L612.0 501.8L613.7 501.8L615.4 501.8L617.1 501.8L618.8 501.8L620.5 501.8L622.2 501.9L623.9 501.9L625.6 501.9L627.2 501.9L628.9 501.9L630.6 501.9L632.3 502.0L634.0 502.0L635.7 502.0L637.4 502.0L639.1 502.0L640.8 502.0L642.5 502.0L644.1 502.0L645.8 502.1L647.5 502.1L649.2 502.1L650.9 502.1L652.6 502.1L654.3 502.1L656.0 502.1L657.7 502.1L659.4 502.1L661.0 502.2L662.7 502.2L664.4 502.2L666.1 502.2L667.8 502.2L669.5 502.2L671.2 502.2L672.9 502.2L674.6 502.2L676.3 502.2L677.9 502.2L679.6 502.3L681.3 502.3L683.0 502.3L684.7 502.3L686.4 502.3L688.1 502.3L689.8 502.3L691.5 502.3L693.2 502.3L694.8 502.3L696.5 502.3L698.2 502.3L699.9 502.3L701.6 502.4L703.3 502.4L705.0 502.4L706.7 502.4L708.4 502.4L710.1 502.4L711.8 502.4L713.4 502.4L715.1 502.4" stroke="#000" stroke-width="0.75" stroke-dasharray="2.30 2.30 2.30 6.90"/>
<path d="M111.8 115.6L113.5 122.6L115.2 129.5L116.9 136.2L118.6 142.9L120.2 149.4L121.9 155.9L123.6 162.2L125.3 168.4L127.0 174.5L128.7 180.6L130.4 186.5L132.1 192.3L133.8 198.1L135.5 203.7L137.2 209.2L138.8 214.7L140.5 220.1L142.2 225.3L143.9 230.5L145.6 235.6L147.3 240.6L149.0 245.5L150.7 250.3L152.4 255.1L154.1 259.8L155.7 264.3L157.4 268.8L159.1 273.3L160.8 277.6L162.5 281.9L164.2 286.1L165.9 290.2L167.6 294.3L169.3 298.3L170.9 302.2L172.6 306.1L174.3 309.9L176.0 313.6L177.7 317.3L179.4 320.9L181.1 324.4L182.8 327.8L184.5 331.1L186.2 334.4L187.8 337.6L189.5 340.8L191.2 343.9L192.9 346.9L194.6 349.9L196.3 352.8L198.0 355.6L199.7 358.4L201.4 361.2L203.1 363.9L204.8 366.5L206.4 369.1L208.1 371.6L209.8 374.1L211.5 376.6L213.2 379.0L214.9 381.3L216.6 383.6L218.3 385.9L220.0 388.1L221.6 390.2L223.3 392.4L225.0 394.5L226.7 396.5L228.4 398.5L230.1 400.5L231.8 402.4L233.5 404.3L235.2 406.2L236.9 408.0L238.6 409.8L240.2 411.6L241.9 413.3L243.6 415.0L245.3 416.7L247.0 418.3L248.7 419.9L250.4 421.5L252.1 423.0L253.8 424.5L255.4 426.0L257.1 427.5L258.8 428.9L260.5 430.3L262.2 431.7L263.9 433.1L265.6 434.4L267.3 435.7L269.0 437.0L270.7 438.2L272.4 439.5L274.0 440.7L275.7 441.9L277.4 443.0L279.1 444.2L280.8 445.3L282.5 446.4L284.2 447.4L285.9 448.5L287.6 449.5L289.2 450.5L290.9 451.5L292.6 452.5L294.3 453.5L296.0 454.4L297.7 455.3L299.4 456.2L301.1 457.1L302.8 458.0L304.5 458.8L306.1 459.7L307.8 460.5L309.5 461.3L311.2 462.1L312.9 462.9L314.6 463.6L316.3 464.4L318.0 465.1L319.7 465.8L321.4 466.5L323.1 467.2L324.7 467.9L326.4 468.5L328.1 469.2L329.8 469.8L331.5 470.5L333.2 471.1L334.9 471.7L336.6 472.3L338.3 472.8L339.9 473.4L341.6 474.0L343.3 474.5L345.0 475.1L346.7 475.6L348.4 476.1L350.1 476.6L351.8 477.1L353.5 477.6L355.2 478.1L356.9 478.5L358.5 479.0L360.2 479.5L361.9 479.9L363.6 480.3L365.3 480.8L367.0 481.2L368.7 481.6L370.4 482.0L372.1 482.4L373.8 482.8L375.4 483.1L377.1 483.5L378.8 483.9L380.5 484.2L382.2 484.6L383.9 484.9L385.6 485.3L387.3 485.6L389.0 485.9L390.7 486.3L392.3 486.6L394.0 486.9L395.7 487.2L397.4 487.5L399.1 487.8L400.8 488.0L402.5 488.3L404.2 488.6L405.9 488.9L407.6 489.1L409.2 489.4L410.9 489.6L412.6 489.9L414.3 490.1L416.0 490.4L417.7 490.6L419.4 490.8L421.1 491.1L422.8 491.3L424.4 491.5L426.1 491.7L427.8 491.9L429.5 492.1L431.2 492.3L432.9 492.5L434.6 492.7L436.3 492.9L438.0 493.1L439.7 493.3L441.4 493.5L443.0 493.6L444.7 493.8L446.4 494.0L448.1 494.1L449.8 494.3L451.5 494.5L453.2 494.6L454.9 494.8L456.6 494.9L458.2 495.1L459.9 495.2L461.6 495.4L463.3 495.5L465.0 495.6L466.7 495.8L468.4 495.9L470.1 496.0L471.8 496.2L473.5 496.3L475.2 496.4L476.8 496.5L478.5 496.6L480.2 496.8L481.9 496.9L483.6 497.0L485.3 497.1L487.0 497.2L488.7 497.3L490.4 497.4L492.1 497.5L493.7 497.6L495.4 497.7L497.1 497.8L498.8 497.9L500.5 498.0L502.2 498.1L503.9 498.2L505.6 498.3L507.3 498.3L508.9 498.4L510.6 498.5L512.3 498.6L514.0 498.7L515.7 498.7L517.4 498.8L519.1 498.9L520.8 499.0L522.5 499.0L524.2 499.1L525.9 499.2L527.5 499.2L529.2 499.3L530.9 499.4L532.6 499.4L534.3 499.5L536.0 499.6L537.7 499.6L539.4 499.7L541.1 499.7L542.8 499.8L544.4 499.8L546.1 499.9L547.8 499.9L549.5 500.0L551.2 500.1L552.9 500.1L554.6 500.2L556.3 500.2L558.0 500.2L559.6 500.3L561.3 500.3L563.0 500.4L564.7 500.4L566.4 500.5L568.1 500.5L569.8 500.6L571.5 500.6L573.2 500.6L574.9 500.7L576.5 500.7L578.2 500.8L579.9 500.8L581.6 500.8L583.3 500.9L585.0 500.9L586.7 500.9L588.4 501.0L590.1 501.0L591.8 501.0L593.4 501.1L595.1 501.1L596.8 501.1L598.5 501.2L600.2 501.2L601.9 501.2L603.6 501.2L605.3 501.3L607.0 501.3L608.7 501.3L610.4 501.3L612.0 501.4L613.7 501.4L615.4 501.4L617.1 501.4L618.8 501.5L620.5 501.5L622.2 501.5L623.9 501.5L625.6 501.6L627.2 501.6L628.9 501.6L630.6 501.6L632.3 501.6L634.0 501.7L635.7 501.7L637.4 501.7L639.1 501.7L640.8 501.7L642.5 501.8L644.1 501.8L645.8 501.8L647.5 501.8L649.2 501.8L650.9 501.8L652.6 501.9L654.3 501.9L656.0 501.9L657.7 501.9L659.4 501.9L661.0 501.9L662.7 502.0L664.4 502.0L666.1 502.0L667.8 502.0L669.5 502.0L671.2 502.0L672.9 502.0L674.6 502.0L676.3 502.1L677.9 502.1L679.6 502.1L681.3 502.1L683.0 502.1L684.7 502.1L686.4 502.1L688.1 502.1L689.8 502.2L691.5 502.2L693.2 502.2L694.8 502.2L696.5 502.2L698.2 502.2L699.9 502.2L701.6 502.2L703.3 502.2L705.0 502.2L706.7 502.2L708.4 502.3L710.1 502.3L711.8 502.3L713.4 502.3L715.1 502.3" stroke="#000" stroke-width="0.75" stroke-dasharray="2.30 2.30 2.30 6.90"/>
<path d="M111.8 -574.5L113.5 -553.4L115.2 -532.6L116.9 -512.3L118.6 -492.3L120.2 -472.8L121.9 -453.7L123.6 -435.0L125.3 -416.6L127.0 -398.6L128.7 -381.0L130.4 -363.7L132.1 -346.8L133.8 -330.2L135.5 -314.0L137.2 -298.1L138.8 -282.5L140.5 -267.2L142.2 -252.2L143.9 -237.6L145.6 -223.2L147.3 -209.1L149.0 -195.3L150.7 -181.7L152.4 -168.5L154.1 -155.5L155.7 -142.7L157.4 -130.2L159.1 -118.0L160.8 -106.0L162.5 -94.3L164.2 -82.7L165.9 -71.4L167.6 -60.4L169.3 -49.5L170.9 -38.9L172.6 -28.5L174.3 -18.3L176.0 -8.3L177.7 1.5L179.4 11.2L181.1 20.6L182.8 29.8L184.5 38.9L186.2 47.7L187.8 56.4L189.5 64.9L191.2 73.3L192.9 81.4L194.6 89.4L196.3 97.3L198.0 104.9L199.7 112.5L201.4 119.8L203.1 127.1L204.8 134.2L206.4 141.1L208.1 147.9L209.8 154.6L211.5 161.2L213.2 167.6L214.9 173.9L216.6 180.1L218.3 186.2L220.0 192.2L221.6 198.0L223.3 203.8L225.0 209.4L226.7 214.9L228.4 220.4L230.1 225.7L231.8 231.0L233.5 236.1L235.2 241.1L236.9 246.1L238.6 251.0L240.2 255.8L241.9 260.5L243.6 265.1L245.3 269.6L247.0 274.1L248.7 278.4L250.4 282.7L252.1 286.9L253.8 291.1L255.4 295.1L257.1 299.1L258.8 303.0L260.5 306.8L262.2 310.6L263.9 314.3L265.6 317.9L267.3 321.4L269.0 324.9L270.7 328.4L272.4 331.7L274.0 335.0L275.7 338.2L277.4 341.4L279.1 344.5L280.8 347.5L282.5 350.5L284.2 353.5L285.9 356.3L287.6 359.1L289.2 361.9L290.9 364.6L292.6 367.3L294.3 369.9L296.0 372.4L297.7 374.9L299.4 377.4L301.1 379.8L302.8 382.2L304.5 384.5L306.1 386.8L307.8 389.0L309.5 391.2L311.2 393.3L312.9 395.4L314.6 397.5L316.3 399.5L318.0 401.5L319.7 403.4L321.4 405.3L323.1 407.2L324.7 409.0L326.4 410.8L328.1 412.6L329.8 414.3L331.5 416.0L333.2 417.7L334.9 419.3L336.6 420.9L338.3 422.5L339.9 424.0L341.6 425.5L343.3 427.0L345.0 428.5L346.7 429.9L348.4 431.3L350.1 432.6L351.8 434.0L353.5 435.3L355.2 436.6L356.9 437.9L358.5 439.1L360.2 440.3L361.9 441.5L363.6 442.7L365.3 443.9L367.0 445.0L368.7 446.1L370.4 447.2L372.1 448.2L373.8 449.3L375.4 450.3L377.1 451.3L378.8 452.3L380.5 453.3L382.2 454.2L383.9 455.1L385.6 456.1L387.3 457.0L389.0 457.8L390.7 458.7L392.3 459.5L394.0 460.4L395.7 461.2L397.4 462.0L399.1 462.8L400.8 463.5L402.5 464.3L404.2 465.0L405.9 465.7L407.6 466.4L409.2 467.1L410.9 467.8L412.6 468.5L414.3 469.1L416.0 469.8L417.7 470.4L419.4 471.0L421.1 471.6L422.8 472.2L424.4 472.8L426.1 473.4L427.8 474.0L429.5 474.5L431.2 475.1L432.9 475.6L434.6 476.1L436.3 476.6L438.0 477.1L439.7 477.6L441.4 478.1L443.0 478.6L444.7 479.0L446.4 479.5L448.1 479.9L449.8 480.4L451.5 480.8L453.2 481.2L454.9 481.6L456.6 482.0L458.2 482.4L459.9 482.8L461.6 483.2L463.3 483.6L465.0 483.9L466.7 484.3L468.4 484.7L470.1 485.0L471.8 485.3L473.5 485.7L475.2 486.0L476.8 486.3L478.5 486.6L480.2 486.9L481.9 487.2L483.6 487.5L485.3 487.8L487.0 488.1L488.7 488.4L490.4 488.7L492.1 488.9L493.7 489.2L495.4 489.5L497.1 489.7L498.8 490.0L500.5 490.2L502.2 490.5L503.9 490.7L505.6 490.9L507.3 491.1L508.9 491.4L510.6 491.6L512.3 491.8L514.0 492.0L515.7 492.2L517.4 492.4L519.1 492.6L520.8 492.8L522.5 493.0L524.2 493.2L525.9 493.4L527.5 493.5L529.2 493.7L530.9 493.9L532.6 494.1L534.3 494.2L536.0 494.4L537.7 494.5L539.4 494.7L541.1 494.9L542.8 495.0L544.4 495.2L546.1 495.3L547.8 495.4L549.5 495.6L551.2 495.7L552.9 495.9L554.6 496.0L556.3 496.1L558.0 496.2L559.6 496.4L561.3 496.5L563.0 496.6L564.7 496.7L566.4 496.8L568.1 496.9L569.8 497.1L571.5 497.2L573.2 497.3L574.9 497.4L576.5 497.5L578.2 497.6L579.9 497.7L581.6 497.8L583.3 497.9L585.0 498.0L586.7 498.1L588.4 498.1L590.1 498.2L591.8 498.3L593.4 498.4L595.1 498.5L596.8 498.6L598.5 498.6L600.2 498.7L601.9 498.8L603.6 498.9L605.3 498.9L607.0 499.0L608.7 499.1L610.4 499.2L612.0 499.2L613.7 499.3L615.4 499.4L617.1 499.4L618.8 499.5L620.5 499.5L622.2 499.6L623.9 499.7L625.6 499.7L627.2 499.8L628.9 499.8L630.6 499.9L632.3 499.9L634.0 500.0L635.7 500.1L637.4 500.1L639.1 500.2L640.8 500.2L642.5 500.2L644.1 500.3L645.8 500.3L647.5 500.4L649.2 500.4L650.9 500.5L652.6 500.5L654.3 500.6L656.0 500.6L657.7 500.6L659.4 500.7L661.0 500.7L662.7 500.8L664.4 500.8L666.1 500.8L667.8 500.9L669.5 500.9L671.2 500.9L672.9 501.0L674.6 501.0L676.3 501.0L677.9 501.1L679.6 501.1L681.3 501.1L683.0 501.2L684.7 501.2L686.4 501.2L688.1 501.2L689.8 501.3L691.5 501.3L693.2 501.3L694.8 501.4L696.5 501.4L698.2 501.4L699.9 501.4L701.6 501.5L703.3 501.5L705.0 501.5L706.7 501.5L708.4 501.5L710.1 501.6L711.8 501.6L713.4 501.6L715.1 501.6" stroke="#000" stroke-width="0.75" stroke-dasharray="2.30 2.30 2.30 6.90"/>
<path d="M111.8 71.3L112.6 72.5L113.5 73.7L114.3 74.8L115.2 75.8L116.0 76.8L116.9 77.8L117.7 78.7L118.6 79.6L119.4 80.5L120.2 81.3L121.1 82.2L121.9 83.0L122.8 83.8L123.6 84.6L124.5 85.4L125.3 86.1L126.2 86.9L127.0 87.7L127.9 88.5L128.7 89.3L129.5 90.2L130.4 91.0L131.2 91.8L132.1 92.7L132.9 93.5L133.8 94.3L134.6 95.2L135.5 96.0L136.3 96.8L137.2 97.6L138.0 98.4L138.8 99.2L139.7 100.0L140.5 100.8L141.4 101.6L142.2 102.4L143.1 103.2L143.9 104.0L144.8 104.8L145.6 105.6L146.4 106.4L147.3 107.2L148.1 108.0L149.0 108.8L149.8 109.7L150.7 110.5L151.5 111.4L152.4 112.3L153.2 113.2L154.1 114.1L154.9 115.0L155.7 115.9L156.6 116.8L157.4 117.8L158.3 118.7L159.1 119.7L160.0 120.7L160.8 121.7L161.7 122.7L162.5 123.7L163.3 124.8L164.2 125.9L165.0 126.9L165.9 128.1L166.7 129.2L167.6 130.4L168.4 131.6L169.3 132.9L170.1 134.1L170.9 135.4L171.8 136.7L172.6 138.0L173.5 139.3L174.3 140.6L175.2 141.9L176.0 143.2L176.9 144.5L177.7 145.8L178.6 147.0L179.4 148.3L180.2 149.6L181.1 150.8L181.9 152.1L182.8 153.4L183.6 154.6L184.5 155.9L185.3 157.2L186.2 158.5L187.0 159.8L187.8 161.1L188.7 162.4L189.5 163.7L190.4 165.0L191.2 166.3L192.1 167.7L192.9 169.0L193.8 170.4L194.6 171.7L195.5 173.1L196.3 174.5L197.1 175.9L198.0 177.3L198.8 178.7L199.7 180.1L200.5 181.5L201.4 182.9L202.2 184.3L203.1 185.7L203.9 187.1L204.8 188.5L205.6 189.9L206.4 191.3L207.3 192.7L208.1 194.1L209.0 195.4L209.8 196.8L210.7 198.2L211.5 199.6L212.4 201.0L213.2 202.3L214.0 203.7L214.9 205.2L215.7 206.6L216.6 208.0L217.4 209.4L218.3 210.9L219.1 212.4L220.0 213.9L220.8 215.4L221.6 216.9L222.5 218.4L223.3 219.9L224.2 221.5L225.0 223.0L225.9 224.6L226.7 226.2L227.6 227.8L228.4 229.4L229.3 230.9L230.1 232.6L230.9 234.2L231.8 235.8L232.6 237.4L233.5 239.0L234.3 240.6L235.2 242.3L236.0 243.9L236.9 245.6L237.7 247.2L238.6 248.8L239.4 250.5L240.2 252.1L241.1 253.8L241.9 255.4L242.8 257.1L243.6 258.7L244.5 260.4L245.3 262.0L246.2 263.7L247.0 265.4L247.8 267.1L248.7 268.8L249.5 270.5L250.4 272.2L251.2 274.0L252.1 275.7L252.9 277.5L253.8 279.3L254.6 281.1L255.4 282.9L256.3 284.8L257.1 286.7L258.0 288.6L258.8 290.6L259.7 292.6L260.5 294.6L261.4 296.5L262.2 298.4L263.1 300.2L263.9 302.0L264.7 303.8L265.6 305.6L266.4 307.5L267.3 309.4L268.1 311.3L269.0 313.3L269.8 315.5L270.7 317.6L271.5 319.8L272.4 322.0L273.2 324.4L274.0 326.9L274.9 329.6L275.7 332.6L276.6 336.3L277.4 340.0L278.3 342.6L279.1 344.6L280.0 346.5L280.8 348.4L281.0 348.7L281.1 349.1L281.3 349.4L281.5 349.8L281.6 350.1L281.8 350.5L282.0 350.8L282.2 351.2L282.3 351.5L282.5 351.9L282.7 352.3L282.8 352.7L283.0 353.1L283.2 353.5L283.3 354.0L283.5 354.4L283.7 354.9L283.8 355.4L284.0 356.0L284.2 356.5L284.3 357.1L284.5 357.6L284.7 358.2L284.9 358.8L285.0 359.4L285.2 360.0L285.4 360.6L285.5 361.2L285.7 361.8L285.9 362.4L286.0 363.0L286.2 363.6L286.4 364.2L286.5 364.8L286.7 365.4L286.9 365.9L287.1 366.5L287.2 367.1L287.4 367.6L287.6 368.2L287.7 368.8L287.9 369.3L288.1 369.9L288.2 370.4L288.4 371.0L288.6 371.6L288.7 372.1L288.9 372.7L289.1 373.3L289.2 373.8L289.4 374.4L289.6 375.0L289.8 375.5L289.9 376.1L290.1 376.7L290.3 377.3L290.4 377.9L290.6 378.5L290.8 379.1L290.9 379.7L291.1 380.3L291.3 381.0L291.4 381.6L291.6 382.3L291.8 382.9L292.0 383.6L292.1 384.3L292.3 384.9L292.5 385.6L292.6 386.3L292.8 387.0L293.0 387.7L293.1 388.4L293.3 389.1L293.5 389.8L293.6 390.5L293.8 391.2L294.0 391.9L294.2 392.6L294.3 393.3L294.5 394.0L294.7 394.7L294.8 395.4L295.0 396.0L295.2 396.7L295.3 397.4L295.5 398.0L295.7 398.6L295.8 399.2L296.0 399.8L296.2 400.4L296.3 401.0L296.5 401.6L296.7 402.2L296.9 402.7L297.0 403.3L297.2 403.9L297.4 404.5L297.5 405.1L297.7 405.8L297.9 406.4L298.0 407.0L298.2 407.7L298.4 408.4L298.5 409.2L298.7 409.9L298.9 410.7L299.1 411.6L299.2 412.5L299.4 413.4L299.6 414.4L299.7 415.4L299.9 416.4L300.1 417.4L300.2 418.4L300.4 419.4L300.6 420.4L300.7 421.5L300.9 422.6L301.1 423.6L301.2 424.7L301.4 425.8L301.6 426.9L301.8 428.0L301.9 429.0L302.1 430.1L302.3 431.1L302.4 432.1L302.6 433.1L302.8 434.1L302.9 435.0L303.1 435.9L303.3 436.8L303.4 437.6L303.6 438.5L303.8 439.3L304.0 440.1L304.1 440.9L304.3 441.7L304.5 442.5L304.6 443.3L304.8 444.1L305.0 444.9L305.1 445.7L305.3 446.5L305.5 447.3L305.6 448.1L305.8 449.0L306.0 449.8L306.1 450.7L306.3 451.6L306.5 452.5L306.7 453.5L306.8 454.4L307.0 455.3L307.2 456.2L307.3 457.1L307.5 458.1L307.7 459.0L307.8 460.0L308.0 461.1L308.2 462.1L308.3 463.2L308.5 464.4L308.7 465.7L308.9 467.0L309.0 468.4L309.2 469.8L309.4 471.2L309.5 473.0L309.7 475.2L309.9 478.0L310.0 483.5L310.2 492.3L310.4 502.7" stroke="#333" stroke-width="0.6" stroke-dasharray="2.30 2.30 2.30 6.90"/>
</g>
<rect x="111.8" y="27.45" width="676.00" height="475.25" fill="none" stroke="#000" stroke-width="1.65"/>
<g font-size="22.85px" fill="#000" text-rendering="geometricPrecision">
<text x="97.9" y="510.80" text-anchor="end">0</text>
<text x="97.9" y="457.99" text-anchor="end">1</text>
<text x="97.9" y="405.19" text-anchor="end">2</text>
<text x="97.9" y="352.38" text-anchor="end">3</text>
<text x="97.9" y="299.58" text-anchor="end">4</text>
<text x="97.9" y="246.77" text-anchor="end">5</text>
<text x="97.9" y="193.97" text-anchor="end">6</text>
<text x="97.9" y="141.16" text-anchor="end">7</text>
<text x="97.9" y="88.36" text-anchor="end">8</text>
<text x="97.9" y="35.55" text-anchor="end">9</text>
<text x="114.80" y="533.3" text-anchor="middle">0</text>
<text x="182.40" y="533.3" text-anchor="middle">20</text>
<text x="250.00" y="533.3" text-anchor="middle">40</text>
<text x="317.60" y="533.3" text-anchor="middle">60</text>
<text x="385.20" y="533.3" text-anchor="middle">80</text>
<text x="452.80" y="533.3" text-anchor="middle">100</text>
<text x="520.40" y="533.3" text-anchor="middle">120</text>
<text x="588.00" y="533.3" text-anchor="middle">140</text>
<text x="655.60" y="533.3" text-anchor="middle">160</text>
<text x="723.20" y="533.3" text-anchor="middle">180</text>
<text x="790.80" y="533.3" text-anchor="middle">200</text>
<text x="450.4" y="567.2" text-anchor="middle">Time [Orbits]</text>
<text transform="translate(54.4 264.9) rotate(-90)" text-anchor="middle">Inclination</text>
</g>
<text x="684.2" y="51.60" text-anchor="end" font-size="22.85px" fill="#000">i<tspan dy="7.6" font-size="17.1px">0</tspan><tspan dy="-5.5"> = </tspan><tspan dy="-2.1">1.0</tspan></text>
<path d="M697.9 46.35H760.5" stroke="#ff0000" stroke-width="1.35" fill="none"/>
<text x="684.2" y="74.48" text-anchor="end" font-size="22.85px" fill="#000">i<tspan dy="7.6" font-size="17.1px">0</tspan><tspan dy="-5.5"> = </tspan><tspan dy="-2.1">2.0</tspan></text>
<path d="M697.9 69.23H760.5" stroke="#00ff00" stroke-width="1.35" fill="none" stroke-dasharray="4.60 2.30"/>
<text x="684.2" y="97.36" text-anchor="end" font-size="22.85px" fill="#000">i<tspan dy="7.6" font-size="17.1px">0</tspan><tspan dy="-5.5"> = </tspan><tspan dy="-2.1">3.0</tspan></text>
<path d="M697.9 92.11H760.5" stroke="#0000ff" stroke-width="1.35" fill="none" stroke-dasharray="2.30 3.45"/>
<text x="684.2" y="120.24" text-anchor="end" font-size="22.85px" fill="#000">i<tspan dy="7.6" font-size="17.1px">0</tspan><tspan dy="-5.5"> = </tspan><tspan dy="-2.1">4.0</tspan></text>
<path d="M697.9 114.99H760.5" stroke="#ff00ff" stroke-width="1.35" fill="none" stroke-dasharray="1.15 1.72"/>
<text x="684.2" y="143.12" text-anchor="end" font-size="22.85px" fill="#000">i<tspan dy="7.6" font-size="17.1px">0</tspan><tspan dy="-5.5"> = </tspan><tspan dy="-2.1">6.0</tspan></text>
<path d="M697.9 137.87H760.5" stroke="#00ffff" stroke-width="1.35" fill="none" stroke-dasharray="6.90 2.30 1.15 2.30"/>
<text x="684.2" y="166.00" text-anchor="end" font-size="22.85px" fill="#000">i<tspan dy="7.6" font-size="17.1px">0</tspan><tspan dy="-5.5"> = </tspan><tspan dy="-2.1">8.0</tspan></text>
<path d="M697.9 160.75H760.5" stroke="#ff4d00" stroke-width="1.35" fill="none" stroke-dasharray="1.15 2.30 6.90 2.30 1.15 2.30"/>
</svg>
</body></html>
